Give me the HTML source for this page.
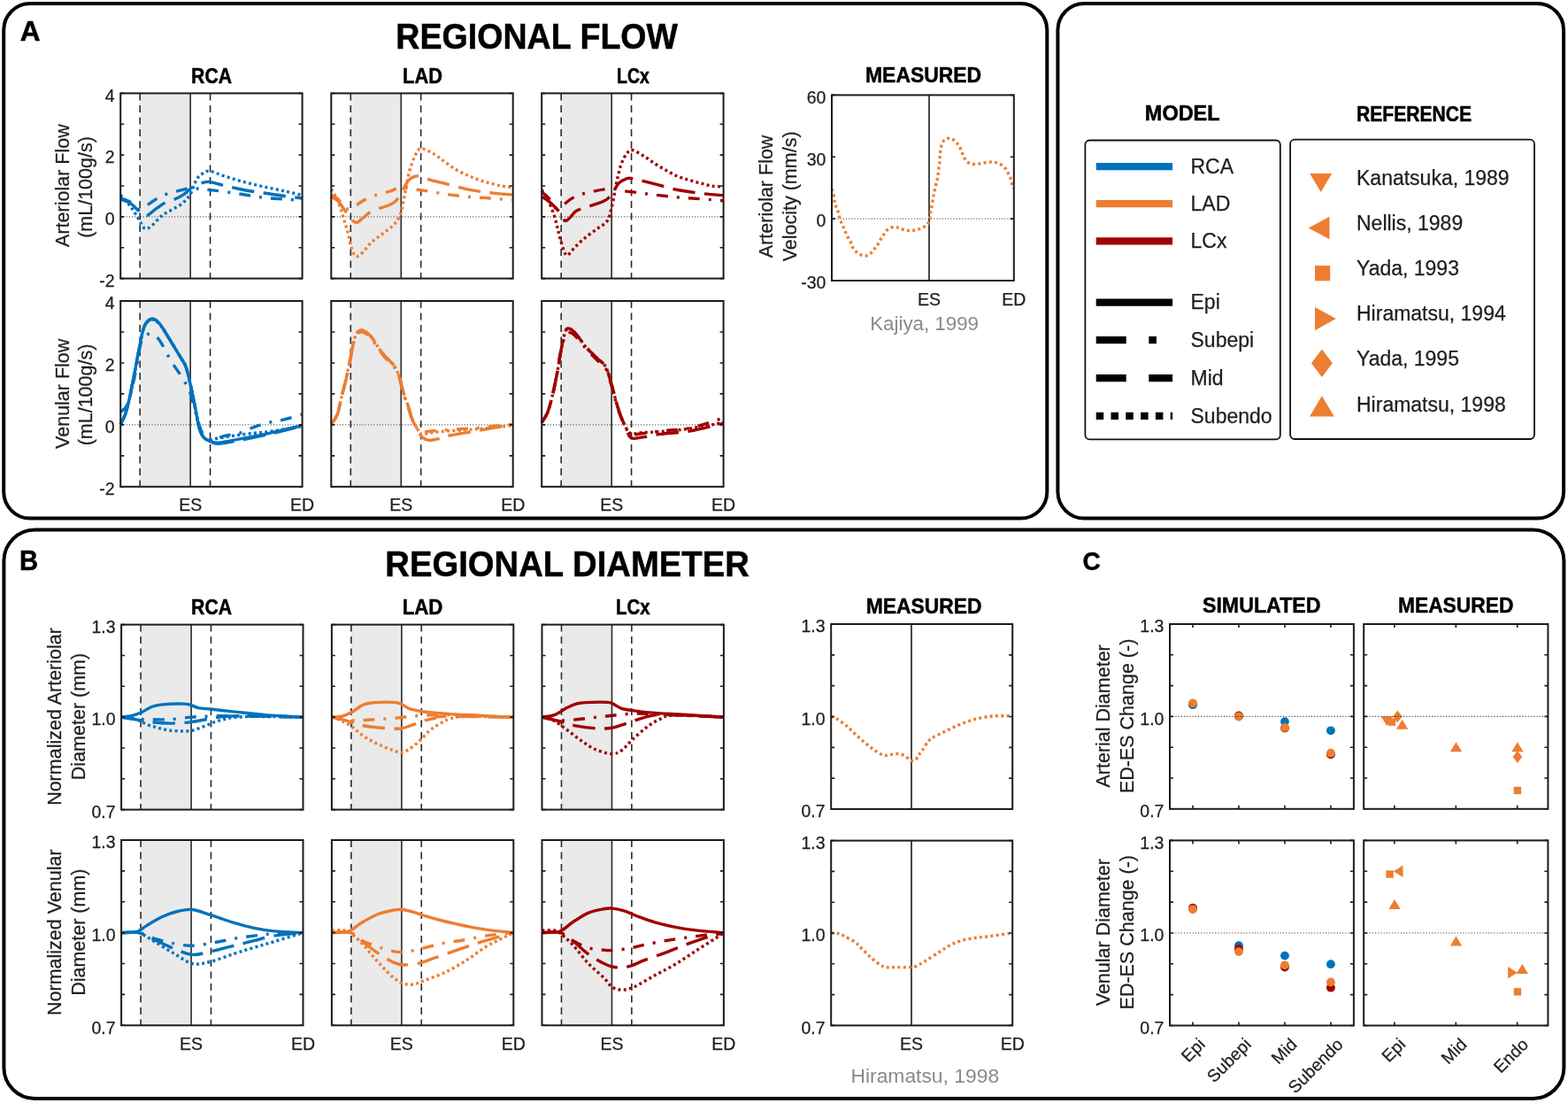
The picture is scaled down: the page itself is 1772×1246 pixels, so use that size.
<!DOCTYPE html>
<html><head><meta charset="utf-8"><title>Regional flow and diameter</title>
<style>html,body{margin:0;padding:0;background:#fff;}svg{display:block;}</style>
</head><body>
<svg width="1772" height="1246" viewBox="0 0 1772 1246">
<rect width="1772" height="1246" fill="#ffffff"/>
<rect x="4.2" y="4" width="1179.1" height="581.6" rx="30" ry="30" fill="none" stroke="#000" stroke-width="4"/>
<rect x="1195.4" y="4" width="571.7" height="581.6" rx="30" ry="30" fill="none" stroke="#000" stroke-width="4"/>
<rect x="4.4" y="598.6" width="1763" height="642.4" rx="35" ry="35" fill="none" stroke="#000" stroke-width="4"/>
<text x="22.81" y="45.5" font-family="'Liberation Sans', Arial, Helvetica, sans-serif" font-size="32" font-weight="bold" fill="#000" stroke="#000" stroke-width="0.5" textLength="22.85" lengthAdjust="spacingAndGlyphs">A</text>
<text x="21.9" y="644" font-family="'Liberation Sans', Arial, Helvetica, sans-serif" font-size="31.5" font-weight="bold" fill="#000" stroke="#000" stroke-width="0.5" textLength="21.07" lengthAdjust="spacingAndGlyphs">B</text>
<text x="1223.58" y="644.2" font-family="'Liberation Sans', Arial, Helvetica, sans-serif" font-size="29.5" font-weight="bold" fill="#000" stroke="#000" stroke-width="0.5" textLength="20.29" lengthAdjust="spacingAndGlyphs">C</text>
<text x="447.36" y="55.4" font-family="'Liberation Sans', Arial, Helvetica, sans-serif" font-size="41" font-weight="bold" fill="#000" stroke="#000" stroke-width="0.5" textLength="318.67" lengthAdjust="spacingAndGlyphs">REGIONAL FLOW</text>
<text x="435.31" y="650.8" font-family="'Liberation Sans', Arial, Helvetica, sans-serif" font-size="41.5" font-weight="bold" fill="#000" stroke="#000" stroke-width="0.5" textLength="411.55" lengthAdjust="spacingAndGlyphs">REGIONAL DIAMETER</text>
<text x="216.12" y="93.9" font-family="'Liberation Sans', Arial, Helvetica, sans-serif" font-size="24.5" font-weight="bold" fill="#000" stroke="#000" stroke-width="0.5" textLength="45.94" lengthAdjust="spacingAndGlyphs">RCA</text>
<text x="455.08" y="93.9" font-family="'Liberation Sans', Arial, Helvetica, sans-serif" font-size="24.5" font-weight="bold" fill="#000" stroke="#000" stroke-width="0.5" textLength="44.79" lengthAdjust="spacingAndGlyphs">LAD</text>
<text x="697.04" y="93.9" font-family="'Liberation Sans', Arial, Helvetica, sans-serif" font-size="24.5" font-weight="bold" fill="#000" stroke="#000" stroke-width="0.5" textLength="36.74" lengthAdjust="spacingAndGlyphs">LCx</text>
<text x="216.12" y="693.9" font-family="'Liberation Sans', Arial, Helvetica, sans-serif" font-size="24.5" font-weight="bold" fill="#000" stroke="#000" stroke-width="0.5" textLength="45.94" lengthAdjust="spacingAndGlyphs">RCA</text>
<text x="454.65" y="693.9" font-family="'Liberation Sans', Arial, Helvetica, sans-serif" font-size="24.5" font-weight="bold" fill="#000" stroke="#000" stroke-width="0.5" textLength="45.74" lengthAdjust="spacingAndGlyphs">LAD</text>
<text x="695.97" y="693.9" font-family="'Liberation Sans', Arial, Helvetica, sans-serif" font-size="24.5" font-weight="bold" fill="#000" stroke="#000" stroke-width="0.5" textLength="38.62" lengthAdjust="spacingAndGlyphs">LCx</text>
<rect x="158.18" y="105.4" width="57" height="209.2" fill="#EAEAEA"/>
<line x1="136.2" y1="244.87" x2="341.6" y2="244.87" stroke="#5a5a5a" stroke-width="1.1" stroke-dasharray="1.1 2.1"/>
<line x1="158.18" y1="105.4" x2="158.18" y2="314.6" stroke="#2a2a2a" stroke-width="1.6" stroke-dasharray="8 5.5"/>
<line x1="237.56" y1="105.4" x2="237.56" y2="314.6" stroke="#2a2a2a" stroke-width="1.6" stroke-dasharray="8 5.5"/>
<line x1="215.18" y1="105.4" x2="215.18" y2="314.6" stroke="#2a2a2a" stroke-width="1.6"/>
<path d="M136.2,224.99 C138.12,225.81 144.21,227.61 147.7,229.87 C151.19,232.14 154.24,236.27 157.15,238.59 C160.06,240.92 161.88,244.34 165.16,243.82 C168.45,243.3 173.38,237.89 176.87,235.45 C180.36,233.01 182.65,230.92 186.11,229.18 C189.57,227.43 193.95,226.62 197.61,224.99 C201.28,223.37 205.01,221.51 208.09,219.41 C211.17,217.32 212.64,214.59 216.1,212.44 C219.56,210.29 225.34,207.68 228.84,206.51 C232.33,205.35 233.18,205 237.05,205.47 C240.92,205.93 245.68,207.79 252.05,209.3 C258.41,210.81 267.52,213.08 275.26,214.53 C282.99,215.99 290.73,216.86 298.47,218.02 C306.2,219.18 314.49,220.52 321.68,221.51 C328.87,222.49 338.28,223.54 341.6,223.95" fill="none" stroke="#0072BD" stroke-width="3.4" stroke-dasharray="25.5 10.5"/>
<path d="M136.2,223.95 C138.12,224.7 144.28,226.45 147.7,228.48 C151.13,230.51 154.58,234.99 156.74,236.15 C158.9,237.31 158.25,236.73 160.64,235.45 C163.04,234.17 167.87,230.57 171.12,228.48 C174.37,226.39 176.73,224.64 180.16,222.9 C183.58,221.16 187.38,219.41 191.66,218.02 C195.94,216.62 201.93,215.46 205.83,214.53 C209.73,213.6 211.62,212.62 215.07,212.44 C218.53,212.27 222.91,213.14 226.58,213.49 C230.24,213.84 232.81,214.07 237.05,214.53 C241.3,215 245.68,215.4 252.05,216.28 C258.41,217.15 267.52,218.6 275.26,219.76 C282.99,220.92 290.73,222.38 298.47,223.25 C306.2,224.12 314.49,224.47 321.68,224.99 C328.87,225.52 338.28,226.15 341.6,226.39" fill="none" stroke="#0072BD" stroke-width="3.4" stroke-dasharray="12.8 10.1 3 10.1"/>
<path d="M136.2,220.46 C138.12,222.61 144.31,228.89 147.7,233.36 C151.09,237.84 153.9,243.18 156.53,247.31 C159.17,251.43 161.09,256.78 163.52,258.12 C165.95,259.45 167.93,257.71 171.12,255.33 C174.3,252.94 178.79,246.9 182.62,243.82 C186.45,240.74 190.25,239.17 194.12,236.85 C197.99,234.52 202.34,232.78 205.83,229.87 C209.32,226.97 212.37,223.89 215.07,219.41 C217.78,214.94 219.76,206.92 222.06,203.03 C224.35,199.13 226.34,197.68 228.84,196.05 C231.33,194.43 233.18,192.86 237.05,193.26 C240.92,193.67 245.68,196.46 252.05,198.49 C258.41,200.53 267.52,203.38 275.26,205.47 C282.99,207.56 290.73,209.3 298.47,211.05 C306.2,212.79 314.49,214.36 321.68,215.93 C328.87,217.5 338.28,219.7 341.6,220.46" fill="none" stroke="#0072BD" stroke-width="3.4" stroke-dasharray="3 3.3"/>
<path d="M136.2,314.6h4.0M341.6,314.6h-4.0" stroke="#1c1c1c" stroke-width="1.6"/>
<path d="M136.2,279.73h4.0M341.6,279.73h-4.0" stroke="#1c1c1c" stroke-width="1.6"/>
<path d="M136.2,244.87h4.0M341.6,244.87h-4.0" stroke="#1c1c1c" stroke-width="1.6"/>
<path d="M136.2,210h4.0M341.6,210h-4.0" stroke="#1c1c1c" stroke-width="1.6"/>
<path d="M136.2,175.13h4.0M341.6,175.13h-4.0" stroke="#1c1c1c" stroke-width="1.6"/>
<path d="M136.2,140.27h4.0M341.6,140.27h-4.0" stroke="#1c1c1c" stroke-width="1.6"/>
<path d="M136.2,105.4h4.0M341.6,105.4h-4.0" stroke="#1c1c1c" stroke-width="1.6"/>
<rect x="136.2" y="105.4" width="205.4" height="209.2" fill="none" stroke="#1c1c1c" stroke-width="2"/>
<text x="129.6" y="114.7" font-family="'Liberation Sans', Arial, Helvetica, sans-serif" font-size="19.5" font-weight="normal" fill="#1e1e1e" stroke="#1e1e1e" stroke-width="0.25" text-anchor="end">4</text>
<text x="129.6" y="184.43" font-family="'Liberation Sans', Arial, Helvetica, sans-serif" font-size="19.5" font-weight="normal" fill="#1e1e1e" stroke="#1e1e1e" stroke-width="0.25" text-anchor="end">2</text>
<text x="129.6" y="254.17" font-family="'Liberation Sans', Arial, Helvetica, sans-serif" font-size="19.5" font-weight="normal" fill="#1e1e1e" stroke="#1e1e1e" stroke-width="0.25" text-anchor="end">0</text>
<text x="129.6" y="323.9" font-family="'Liberation Sans', Arial, Helvetica, sans-serif" font-size="19.5" font-weight="normal" fill="#1e1e1e" stroke="#1e1e1e" stroke-width="0.25" text-anchor="end">-2</text>
<rect x="158.18" y="340" width="57" height="209.8" fill="#EAEAEA"/>
<line x1="136.2" y1="479.87" x2="341.6" y2="479.87" stroke="#5a5a5a" stroke-width="1.1" stroke-dasharray="1.1 2.1"/>
<line x1="158.18" y1="340" x2="158.18" y2="549.8" stroke="#2a2a2a" stroke-width="1.6" stroke-dasharray="8 5.5"/>
<line x1="237.56" y1="340" x2="237.56" y2="549.8" stroke="#2a2a2a" stroke-width="1.6" stroke-dasharray="8 5.5"/>
<line x1="215.18" y1="340" x2="215.18" y2="549.8" stroke="#2a2a2a" stroke-width="1.6"/>
<path d="M136.2,479.17 C137.06,477.42 139.66,473.51 141.33,468.68 C143.01,463.84 144.31,458.89 146.26,450.14 C148.22,441.4 151.09,426.13 153.04,416.23 C154.99,406.32 156.29,398.63 157.97,390.7 C159.65,382.78 160.85,373.74 163.11,368.67 C165.37,363.6 168.72,360.86 171.53,360.28 C174.34,359.7 176.87,361.8 179.95,365.18 C183.03,368.56 186.11,374.33 190.01,380.56 C193.92,386.8 200.01,396.94 203.37,402.59 C206.72,408.24 208.16,409.12 210.14,414.48 C212.13,419.84 213.6,427.42 215.28,434.76 C216.96,442.1 218.53,450.32 220.21,458.54 C221.89,466.75 223.67,478.12 225.34,484.06 C227.02,490.01 228.32,491.81 230.27,494.2 C232.22,496.59 234.24,497.41 237.05,498.4 C239.86,499.39 241.5,500.56 247.12,500.15 C252.73,499.74 261.22,497.76 270.74,495.95 C280.25,494.14 292.41,491.87 304.22,489.31 C316.03,486.74 335.37,482.02 341.6,480.57" fill="none" stroke="#0072BD" stroke-width="3.4"/>
<path d="M136.2,479.17 C137.06,477.42 139.66,473.51 141.33,468.68 C143.01,463.84 144.31,458.89 146.26,450.14 C148.22,441.4 151.09,426.13 153.04,416.23 C154.99,406.32 156.29,398.63 157.97,390.7 C159.65,382.78 160.85,373.74 163.11,368.67 C165.37,363.6 168.72,360.86 171.53,360.28 C174.34,359.7 176.87,361.8 179.95,365.18 C183.03,368.56 186.11,374.33 190.01,380.56 C193.92,386.8 200.01,396.94 203.37,402.59 C206.72,408.24 208.16,409.12 210.14,414.48 C212.13,419.84 213.6,427.42 215.28,434.76 C216.96,442.1 218.53,450.32 220.21,458.54 C221.89,466.75 223.67,478.12 225.34,484.06 C227.02,490.01 228.32,491.81 230.27,494.2 C232.22,496.59 234.24,497.23 237.05,498.4 C239.86,499.56 241.5,501.37 247.12,501.2 C252.73,501.02 261.22,499.16 270.74,497.35 C280.25,495.54 292.41,493.04 304.22,490.36 C316.03,487.68 335.37,482.78 341.6,481.27" fill="none" stroke="#0072BD" stroke-width="3.4" stroke-dasharray="25.5 10.5"/>
<path d="M136.2,465.53 C137.6,463.84 141.81,462.73 144.62,455.39 C147.43,448.05 150.51,433.07 153.04,421.47 C155.58,409.88 157.01,393.21 159.82,385.81 C162.63,378.41 166.53,377.36 169.89,377.06 C173.24,376.77 176.05,378.93 179.95,384.06 C183.85,389.19 188.82,400.49 193.3,407.84 C197.79,415.18 203.19,421.94 206.86,428.12 C210.52,434.29 212.78,438.14 215.28,444.9 C217.78,451.66 219.63,461.28 221.85,468.68 C224.08,476.08 226.1,484.59 228.63,489.31 C231.16,494.03 232.84,496.48 237.05,497 C241.26,497.52 248.28,493.74 253.89,492.45 C259.51,491.17 265.16,491 270.74,489.31 C276.32,487.62 281.79,484.3 287.37,482.31 C292.95,480.33 298.6,478.82 304.22,477.42 C309.83,476.02 314.83,475.5 321.06,473.92 C327.29,472.35 338.18,468.97 341.6,467.98" fill="none" stroke="#0072BD" stroke-width="3.4" stroke-dasharray="12.8 10.1 3 10.1"/>
<path d="M136.2,479.17 C137.06,477.42 139.66,473.51 141.33,468.68 C143.01,463.84 144.31,458.89 146.26,450.14 C148.22,441.4 151.09,426.13 153.04,416.23 C154.99,406.32 156.29,398.63 157.97,390.7 C159.65,382.78 160.85,373.63 163.11,368.67 C165.37,363.72 168.72,361.45 171.53,360.98 C174.34,360.51 176.87,362.61 179.95,365.88 C183.03,369.14 186.11,374.44 190.01,380.56 C193.92,386.68 200.01,396.94 203.37,402.59 C206.72,408.24 208.16,409.12 210.14,414.48 C212.13,419.84 213.6,427.42 215.28,434.76 C216.96,442.1 218.53,450.32 220.21,458.54 C221.89,466.75 223.67,478.12 225.34,484.06 C227.02,490.01 228.32,492.05 230.27,494.2 C232.22,496.36 234.52,496.83 237.05,497 C239.58,497.18 240.44,496.13 245.47,495.25 C250.51,494.38 260.26,492.75 267.25,491.76 C274.23,490.76 281.21,490.01 287.37,489.31 C293.54,488.61 295.18,488.84 304.22,487.56 C313.25,486.28 335.37,482.61 341.6,481.61" fill="none" stroke="#0072BD" stroke-width="3.4" stroke-dasharray="3 3.3"/>
<path d="M136.2,549.8h4.0M341.6,549.8h-4.0" stroke="#1c1c1c" stroke-width="1.6"/>
<path d="M136.2,514.83h4.0M341.6,514.83h-4.0" stroke="#1c1c1c" stroke-width="1.6"/>
<path d="M136.2,479.87h4.0M341.6,479.87h-4.0" stroke="#1c1c1c" stroke-width="1.6"/>
<path d="M136.2,444.9h4.0M341.6,444.9h-4.0" stroke="#1c1c1c" stroke-width="1.6"/>
<path d="M136.2,409.93h4.0M341.6,409.93h-4.0" stroke="#1c1c1c" stroke-width="1.6"/>
<path d="M136.2,374.97h4.0M341.6,374.97h-4.0" stroke="#1c1c1c" stroke-width="1.6"/>
<path d="M136.2,340h4.0M341.6,340h-4.0" stroke="#1c1c1c" stroke-width="1.6"/>
<rect x="136.2" y="340" width="205.4" height="209.8" fill="none" stroke="#1c1c1c" stroke-width="2"/>
<text x="129.6" y="349.3" font-family="'Liberation Sans', Arial, Helvetica, sans-serif" font-size="19.5" font-weight="normal" fill="#1e1e1e" stroke="#1e1e1e" stroke-width="0.25" text-anchor="end">4</text>
<text x="129.6" y="419.23" font-family="'Liberation Sans', Arial, Helvetica, sans-serif" font-size="19.5" font-weight="normal" fill="#1e1e1e" stroke="#1e1e1e" stroke-width="0.25" text-anchor="end">2</text>
<text x="129.6" y="489.17" font-family="'Liberation Sans', Arial, Helvetica, sans-serif" font-size="19.5" font-weight="normal" fill="#1e1e1e" stroke="#1e1e1e" stroke-width="0.25" text-anchor="end">0</text>
<text x="129.6" y="559.1" font-family="'Liberation Sans', Arial, Helvetica, sans-serif" font-size="19.5" font-weight="normal" fill="#1e1e1e" stroke="#1e1e1e" stroke-width="0.25" text-anchor="end">-2</text>
<text x="215.18" y="577.3" font-family="'Liberation Sans', Arial, Helvetica, sans-serif" font-size="19.5" font-weight="normal" fill="#1e1e1e" stroke="#1e1e1e" stroke-width="0.25" text-anchor="middle">ES</text>
<text x="341.6" y="577.3" font-family="'Liberation Sans', Arial, Helvetica, sans-serif" font-size="19.5" font-weight="normal" fill="#1e1e1e" stroke="#1e1e1e" stroke-width="0.25" text-anchor="middle">ED</text>
<rect x="396.28" y="105.4" width="57" height="209.2" fill="#EAEAEA"/>
<line x1="374.3" y1="244.87" x2="579.7" y2="244.87" stroke="#5a5a5a" stroke-width="1.1" stroke-dasharray="1.1 2.1"/>
<line x1="396.28" y1="105.4" x2="396.28" y2="314.6" stroke="#2a2a2a" stroke-width="1.6" stroke-dasharray="8 5.5"/>
<line x1="475.66" y1="105.4" x2="475.66" y2="314.6" stroke="#2a2a2a" stroke-width="1.6" stroke-dasharray="8 5.5"/>
<line x1="453.28" y1="105.4" x2="453.28" y2="314.6" stroke="#2a2a2a" stroke-width="1.6"/>
<path d="M374.3,222.2 C375.57,223.02 379.33,224.53 381.9,227.08 C384.47,229.64 387.34,234.35 389.71,237.54 C392.07,240.74 393.95,243.94 396.07,246.26 C398.19,248.59 400.08,251.49 402.44,251.49 C404.8,251.49 407.68,248.18 410.25,246.26 C412.81,244.34 414.87,241.79 417.84,239.99 C420.82,238.18 424.69,236.73 428.11,235.45 C431.54,234.17 435.2,233.71 438.38,232.31 C441.57,230.92 444.65,229.64 447.22,227.08 C449.78,224.53 451.43,220.81 453.79,216.97 C456.15,213.14 459.06,206.98 461.39,204.07 C463.72,201.17 465.63,200.35 467.76,199.54 C469.88,198.73 471.15,198.61 474.12,199.19 C477.1,199.77 480.94,201.69 485.63,203.03 C490.32,204.36 495.21,205.41 502.26,207.21 C509.32,209.01 519.38,212.09 527.94,213.84 C536.5,215.58 544.99,216.62 553.61,217.67 C562.24,218.72 575.35,219.7 579.7,220.11" fill="none" stroke="#ED7D31" stroke-width="3.4" stroke-dasharray="25.5 10.5"/>
<path d="M374.3,220.81 C375.57,221.45 379.33,222.32 381.9,224.64 C384.47,226.97 387.14,233.01 389.71,234.76 C392.27,236.5 394.33,236.15 397.3,235.1 C400.28,234.06 404.36,230.46 407.57,228.48 C410.79,226.5 412.98,224.82 416.61,223.25 C420.24,221.68 425.1,220.34 429.35,219.07 C433.59,217.79 438.25,216.8 442.08,215.58 C445.92,214.36 448.72,212.03 452.35,211.74 C455.98,211.45 459.78,213.31 463.85,213.84 C467.93,214.36 470.39,214.01 476.79,214.88 C483.2,215.75 493.74,217.85 502.26,219.07 C510.79,220.29 519.38,221.39 527.94,222.2 C536.5,223.02 544.99,223.31 553.61,223.95 C562.24,224.59 575.35,225.69 579.7,226.04" fill="none" stroke="#ED7D31" stroke-width="3.4" stroke-dasharray="12.8 10.1 3 10.1"/>
<path d="M374.3,213.84 C375.57,216.04 379.33,220.81 381.9,227.08 C384.47,233.36 387.75,245.27 389.71,251.49 C391.66,257.71 392.44,259.92 393.61,264.39 C394.77,268.87 395.42,274.27 396.69,278.34 C397.96,282.41 399.39,287.29 401.21,288.8 C403.02,290.31 404.6,289.79 407.57,287.4 C410.55,285.02 415,278.34 419.08,274.5 C423.15,270.67 427.74,267.82 432.02,264.39 C436.3,260.96 441.36,257.59 444.75,253.93 C448.14,250.27 450.23,248.18 452.35,242.43 C454.47,236.67 455.78,227.49 457.49,219.41 C459.2,211.34 460.7,201.17 462.62,193.96 C464.54,186.76 466.83,180.54 468.99,176.18 C471.15,171.82 472.14,168.28 475.56,167.81 C478.99,167.35 485.08,170.95 489.53,173.39 C493.98,175.83 497.99,179.43 502.26,182.46 C506.54,185.48 510.93,188.96 515.2,191.52 C519.48,194.08 523.69,195.88 527.94,197.8 C532.18,199.71 536.39,201.52 540.67,203.03 C544.95,204.54 549.34,205.7 553.61,206.86 C557.89,208.02 562,209.19 566.35,210 C570.7,210.81 577.47,211.45 579.7,211.74" fill="none" stroke="#ED7D31" stroke-width="3.4" stroke-dasharray="3 3.3"/>
<path d="M374.3,314.6h4.0M579.7,314.6h-4.0" stroke="#1c1c1c" stroke-width="1.6"/>
<path d="M374.3,279.73h4.0M579.7,279.73h-4.0" stroke="#1c1c1c" stroke-width="1.6"/>
<path d="M374.3,244.87h4.0M579.7,244.87h-4.0" stroke="#1c1c1c" stroke-width="1.6"/>
<path d="M374.3,210h4.0M579.7,210h-4.0" stroke="#1c1c1c" stroke-width="1.6"/>
<path d="M374.3,175.13h4.0M579.7,175.13h-4.0" stroke="#1c1c1c" stroke-width="1.6"/>
<path d="M374.3,140.27h4.0M579.7,140.27h-4.0" stroke="#1c1c1c" stroke-width="1.6"/>
<path d="M374.3,105.4h4.0M579.7,105.4h-4.0" stroke="#1c1c1c" stroke-width="1.6"/>
<rect x="374.3" y="105.4" width="205.4" height="209.2" fill="none" stroke="#1c1c1c" stroke-width="2"/>
<rect x="396.28" y="340" width="57" height="209.8" fill="#EAEAEA"/>
<line x1="374.3" y1="479.87" x2="579.7" y2="479.87" stroke="#5a5a5a" stroke-width="1.1" stroke-dasharray="1.1 2.1"/>
<line x1="396.28" y1="340" x2="396.28" y2="549.8" stroke="#2a2a2a" stroke-width="1.6" stroke-dasharray="8 5.5"/>
<line x1="475.66" y1="340" x2="475.66" y2="549.8" stroke="#2a2a2a" stroke-width="1.6" stroke-dasharray="8 5.5"/>
<line x1="453.28" y1="340" x2="453.28" y2="549.8" stroke="#2a2a2a" stroke-width="1.6"/>
<path d="M374.3,479.17 C375.43,477.42 379.13,473.81 381.08,468.68 C383.03,463.55 384.33,455.16 386.01,448.4 C387.69,441.64 389.47,435.46 391.14,428.12 C392.82,420.77 394.39,412.26 396.07,404.34 C397.75,396.41 399.19,385.81 401.21,380.56 C403.23,375.32 405.28,373.04 408.19,372.87 C411.1,372.69 415.14,375.78 418.67,379.51 C422.19,383.24 426.23,391.05 429.35,395.25 C432.46,399.44 434.72,401.77 437.36,404.69 C439.99,407.6 442.97,409.64 445.16,412.73 C447.35,415.82 449.17,419.9 450.5,423.22 C451.84,426.54 452.08,428.7 453.17,432.66 C454.27,436.62 455.78,442.8 457.08,447 C458.38,451.19 459.44,453.18 460.98,457.84 C462.52,462.5 464.54,470.54 466.32,474.97 C468.1,479.4 469.88,481.27 471.66,484.41 C473.44,487.56 474.74,491.7 477,493.85 C479.26,496.01 482.13,497.06 485.22,497.35 C488.3,497.64 491.55,496.53 495.49,495.6 C499.42,494.67 501.03,493.33 508.84,491.76 C516.64,490.18 530.51,488.26 542.32,486.16 C554.13,484.06 573.47,480.33 579.7,479.17" fill="none" stroke="#ED7D31" stroke-width="3.4" stroke-dasharray="25.5 10.5"/>
<path d="M374.3,479.17 C375.43,477.42 379.13,473.81 381.08,468.68 C383.03,463.55 384.33,455.16 386.01,448.4 C387.69,441.64 389.47,435.46 391.14,428.12 C392.82,420.77 394.39,412.03 396.07,404.34 C397.75,396.65 399.19,386.86 401.21,381.96 C403.23,377.06 405.28,375.08 408.19,374.97 C411.1,374.85 415.14,377.65 418.67,381.26 C422.19,384.87 426.23,392.45 429.35,396.65 C432.46,400.84 434.72,403.52 437.36,406.44 C439.99,409.35 442.97,411.1 445.16,414.13 C447.35,417.16 449.17,421.24 450.5,424.62 C451.84,428 452.08,430.45 453.17,434.41 C454.27,438.37 455.78,444.32 457.08,448.4 C458.38,452.48 459.44,454.34 460.98,458.89 C462.52,463.43 464.54,471.47 466.32,475.67 C468.1,479.87 469.88,482.08 471.66,484.06 C473.44,486.04 472.69,487.21 477,487.56 C481.31,487.91 487.27,486.86 497.54,486.16 C507.81,485.46 524.93,484.53 538.62,483.36 C552.31,482.2 572.85,479.87 579.7,479.17" fill="none" stroke="#ED7D31" stroke-width="3.4" stroke-dasharray="12.8 10.1 3 10.1"/>
<path d="M374.3,479.17 C375.43,477.42 379.13,473.81 381.08,468.68 C383.03,463.55 384.33,455.16 386.01,448.4 C387.69,441.64 389.47,435.46 391.14,428.12 C392.82,420.77 394.39,412.26 396.07,404.34 C397.75,396.41 399.19,385.81 401.21,380.56 C403.23,375.32 405.28,373.04 408.19,372.87 C411.1,372.69 415.14,375.78 418.67,379.51 C422.19,383.24 426.23,391.05 429.35,395.25 C432.46,399.44 434.72,401.77 437.36,404.69 C439.99,407.6 442.97,409.64 445.16,412.73 C447.35,415.82 449.17,419.9 450.5,423.22 C451.84,426.54 452.08,428.7 453.17,432.66 C454.27,436.62 455.78,442.8 457.08,447 C458.38,451.19 459.44,453.18 460.98,457.84 C462.52,462.5 464.54,470.54 466.32,474.97 C468.1,479.4 470.22,481.85 471.66,484.41 C473.1,486.98 473.71,489.37 474.95,490.36 C476.18,491.35 475.29,490.82 479.05,490.36 C482.82,489.89 487.61,488.49 497.54,487.56 C507.47,486.63 524.93,485.93 538.62,484.76 C552.31,483.6 572.85,481.27 579.7,480.57" fill="none" stroke="#ED7D31" stroke-width="3.4" stroke-dasharray="3 3.3"/>
<path d="M374.3,549.8h4.0M579.7,549.8h-4.0" stroke="#1c1c1c" stroke-width="1.6"/>
<path d="M374.3,514.83h4.0M579.7,514.83h-4.0" stroke="#1c1c1c" stroke-width="1.6"/>
<path d="M374.3,479.87h4.0M579.7,479.87h-4.0" stroke="#1c1c1c" stroke-width="1.6"/>
<path d="M374.3,444.9h4.0M579.7,444.9h-4.0" stroke="#1c1c1c" stroke-width="1.6"/>
<path d="M374.3,409.93h4.0M579.7,409.93h-4.0" stroke="#1c1c1c" stroke-width="1.6"/>
<path d="M374.3,374.97h4.0M579.7,374.97h-4.0" stroke="#1c1c1c" stroke-width="1.6"/>
<path d="M374.3,340h4.0M579.7,340h-4.0" stroke="#1c1c1c" stroke-width="1.6"/>
<rect x="374.3" y="340" width="205.4" height="209.8" fill="none" stroke="#1c1c1c" stroke-width="2"/>
<text x="453.28" y="577.3" font-family="'Liberation Sans', Arial, Helvetica, sans-serif" font-size="19.5" font-weight="normal" fill="#1e1e1e" stroke="#1e1e1e" stroke-width="0.25" text-anchor="middle">ES</text>
<text x="579.7" y="577.3" font-family="'Liberation Sans', Arial, Helvetica, sans-serif" font-size="19.5" font-weight="normal" fill="#1e1e1e" stroke="#1e1e1e" stroke-width="0.25" text-anchor="middle">ED</text>
<rect x="634.18" y="105.4" width="57" height="209.2" fill="#EAEAEA"/>
<line x1="612.2" y1="244.87" x2="817.6" y2="244.87" stroke="#5a5a5a" stroke-width="1.1" stroke-dasharray="1.1 2.1"/>
<line x1="634.18" y1="105.4" x2="634.18" y2="314.6" stroke="#2a2a2a" stroke-width="1.6" stroke-dasharray="8 5.5"/>
<line x1="713.56" y1="105.4" x2="713.56" y2="314.6" stroke="#2a2a2a" stroke-width="1.6" stroke-dasharray="8 5.5"/>
<line x1="691.18" y1="105.4" x2="691.18" y2="314.6" stroke="#2a2a2a" stroke-width="1.6"/>
<path d="M612.2,222.2 C613.47,223.02 616.58,224.35 619.8,227.08 C623.02,229.82 628.5,234.93 631.51,238.59 C634.52,242.25 635.96,247.66 637.88,249.05 C639.79,250.45 640.89,248.7 643.01,246.96 C645.13,245.22 648.08,240.51 650.61,238.59 C653.14,236.67 654.99,236.61 658.21,235.45 C661.43,234.29 665.84,233.01 669.92,231.62 C673.99,230.22 679.26,228.89 682.65,227.08 C686.04,225.28 687.48,224.18 690.25,220.81 C693.02,217.44 696.52,209.94 699.29,206.86 C702.06,203.78 704.32,203.2 706.89,202.33 C709.46,201.46 709.15,200.7 714.69,201.63 C720.24,202.56 731.64,205.76 740.16,207.91 C748.69,210.06 757.28,212.79 765.84,214.53 C774.4,216.28 782.89,217.32 791.51,218.37 C800.14,219.41 813.25,220.4 817.6,220.81" fill="none" stroke="#A00000" stroke-width="3.4" stroke-dasharray="25.5 10.5"/>
<path d="M612.2,216.97 C613.47,218.02 617.23,220.29 619.8,223.25 C622.37,226.21 625.04,233.24 627.61,234.76 C630.17,236.27 632.23,234 635.2,232.31 C638.18,230.63 641.85,226.79 645.47,224.64 C649.1,222.49 652.94,220.81 656.98,219.41 C661.02,218.02 665.43,217.21 669.71,216.28 C673.99,215.35 678.99,214.36 682.65,213.84 C686.32,213.31 688.06,212.85 691.69,213.14 C695.32,213.43 699.53,214.82 704.42,215.58 C709.32,216.33 715.11,216.92 721.06,217.67 C727.02,218.43 732.7,219.24 740.16,220.11 C747.63,220.98 757.28,222.15 765.84,222.9 C774.4,223.66 782.89,224 791.51,224.64 C800.14,225.28 813.25,226.39 817.6,226.74" fill="none" stroke="#A00000" stroke-width="3.4" stroke-dasharray="12.8 10.1 3 10.1"/>
<path d="M612.2,214.53 C613.47,216.62 617.44,222.2 619.8,227.08 C622.16,231.97 624.66,238.71 626.37,243.82 C628.08,248.93 628.91,253.29 630.07,257.77 C631.23,262.24 632.06,266.19 633.36,270.67 C634.66,275.14 636.51,281.71 637.88,284.61 C639.24,287.52 639.45,289.15 641.57,288.1 C643.69,287.06 646.98,281.88 650.61,278.34 C654.24,274.79 659.07,270.32 663.34,266.83 C667.62,263.35 672.42,260.38 676.28,257.42 C680.15,254.46 683.99,253.23 686.55,249.05 C689.12,244.87 690.01,239.35 691.69,232.31 C693.37,225.28 694.94,214.53 696.62,206.86 C698.3,199.19 699.8,191.87 701.75,186.29 C703.71,180.71 706.17,176.18 708.33,173.39 C710.48,170.6 711.51,169.09 714.69,169.55 C717.88,170.02 723.18,173.62 727.43,176.18 C731.67,178.74 735.89,182.16 740.16,184.9 C744.44,187.63 748.83,190.18 753.1,192.57 C757.38,194.95 761.59,197.39 765.84,199.19 C770.08,200.99 774.29,202.1 778.57,203.38 C782.85,204.65 787.24,205.76 791.51,206.86 C795.79,207.97 799.9,209.3 804.25,210 C808.6,210.7 815.37,210.87 817.6,211.05" fill="none" stroke="#A00000" stroke-width="3.4" stroke-dasharray="3 3.3"/>
<path d="M612.2,314.6h4.0M817.6,314.6h-4.0" stroke="#1c1c1c" stroke-width="1.6"/>
<path d="M612.2,279.73h4.0M817.6,279.73h-4.0" stroke="#1c1c1c" stroke-width="1.6"/>
<path d="M612.2,244.87h4.0M817.6,244.87h-4.0" stroke="#1c1c1c" stroke-width="1.6"/>
<path d="M612.2,210h4.0M817.6,210h-4.0" stroke="#1c1c1c" stroke-width="1.6"/>
<path d="M612.2,175.13h4.0M817.6,175.13h-4.0" stroke="#1c1c1c" stroke-width="1.6"/>
<path d="M612.2,140.27h4.0M817.6,140.27h-4.0" stroke="#1c1c1c" stroke-width="1.6"/>
<path d="M612.2,105.4h4.0M817.6,105.4h-4.0" stroke="#1c1c1c" stroke-width="1.6"/>
<rect x="612.2" y="105.4" width="205.4" height="209.2" fill="none" stroke="#1c1c1c" stroke-width="2"/>
<rect x="634.18" y="340" width="57" height="209.8" fill="#EAEAEA"/>
<line x1="612.2" y1="479.87" x2="817.6" y2="479.87" stroke="#5a5a5a" stroke-width="1.1" stroke-dasharray="1.1 2.1"/>
<line x1="634.18" y1="340" x2="634.18" y2="549.8" stroke="#2a2a2a" stroke-width="1.6" stroke-dasharray="8 5.5"/>
<line x1="713.56" y1="340" x2="713.56" y2="549.8" stroke="#2a2a2a" stroke-width="1.6" stroke-dasharray="8 5.5"/>
<line x1="691.18" y1="340" x2="691.18" y2="549.8" stroke="#2a2a2a" stroke-width="1.6"/>
<path d="M612.2,477.42 C613.33,475.44 617.03,470.37 618.98,465.53 C620.93,460.69 622.23,455.22 623.91,448.4 C625.59,441.58 627.37,433.36 629.04,424.62 C630.72,415.88 632.29,404.4 633.97,395.95 C635.65,387.5 637.43,378 639.11,373.92 C640.78,369.84 642.09,370.95 644.04,371.47 C645.99,371.99 647.73,373.57 650.82,377.06 C653.9,380.56 658.59,387.9 662.52,392.45 C666.46,397 670.77,400.67 674.44,404.34 C678.1,408.01 681.69,409.41 684.5,414.48 C687.31,419.55 689.33,428.23 691.28,434.76 C693.23,441.29 694.53,447.87 696.21,453.64 C697.89,459.41 699.67,464.83 701.34,469.38 C703.02,473.92 704.32,476.72 706.27,480.92 C708.22,485.11 709.7,492.4 713.05,494.55 C716.41,496.71 720.79,494.55 726.4,493.85 C732.02,493.15 737.77,491.52 746.74,490.36 C755.71,489.19 768.41,488.9 780.22,486.86 C792.03,484.82 811.37,479.58 817.6,478.12" fill="none" stroke="#A00000" stroke-width="3.4" stroke-dasharray="25.5 10.5"/>
<path d="M612.2,477.42 C613.33,475.44 617.03,470.37 618.98,465.53 C620.93,460.69 622.23,455.22 623.91,448.4 C625.59,441.58 627.37,433.36 629.04,424.62 C630.72,415.88 632.29,403.64 633.97,395.95 C635.65,388.25 637.43,381.84 639.11,378.46 C640.78,375.08 642.09,375.37 644.04,375.67 C645.99,375.96 647.73,377.12 650.82,380.21 C653.9,383.3 658.59,389.83 662.52,394.2 C666.46,398.57 670.77,402.77 674.44,406.44 C678.1,410.11 681.69,411.27 684.5,416.23 C687.31,421.18 689.33,429.75 691.28,436.16 C693.23,442.57 694.53,448.98 696.21,454.69 C697.89,460.4 699.67,465.94 701.34,470.43 C703.02,474.91 704.32,478.29 706.27,481.61 C708.22,484.94 709.7,489.02 713.05,490.36 C716.41,491.7 720.79,490.24 726.4,489.66 C732.02,489.07 737.77,487.91 746.74,486.86 C755.71,485.81 768.41,485.81 780.22,483.36 C792.03,480.92 811.37,474.04 817.6,472.17" fill="none" stroke="#A00000" stroke-width="3.4" stroke-dasharray="12.8 10.1 3 10.1"/>
<path d="M612.2,477.42 C613.33,475.44 617.03,470.37 618.98,465.53 C620.93,460.69 622.23,455.22 623.91,448.4 C625.59,441.58 627.37,433.36 629.04,424.62 C630.72,415.88 632.29,404.4 633.97,395.95 C635.65,387.5 637.43,378 639.11,373.92 C640.78,369.84 642.09,370.95 644.04,371.47 C645.99,371.99 647.73,373.57 650.82,377.06 C653.9,380.56 658.59,387.9 662.52,392.45 C666.46,397 670.77,400.67 674.44,404.34 C678.1,408.01 681.69,409.41 684.5,414.48 C687.31,419.55 689.33,428.23 691.28,434.76 C693.23,441.29 694.53,447.87 696.21,453.64 C697.89,459.41 699.67,464.83 701.34,469.38 C703.02,473.92 704.32,477.54 706.27,480.92 C708.22,484.3 709.7,488.38 713.05,489.66 C716.41,490.94 720.79,488.96 726.4,488.61 C732.02,488.26 737.77,488.32 746.74,487.56 C755.71,486.8 768.41,485.75 780.22,484.06 C792.03,482.37 811.37,478.53 817.6,477.42" fill="none" stroke="#A00000" stroke-width="3.4" stroke-dasharray="3 3.3"/>
<path d="M612.2,549.8h4.0M817.6,549.8h-4.0" stroke="#1c1c1c" stroke-width="1.6"/>
<path d="M612.2,514.83h4.0M817.6,514.83h-4.0" stroke="#1c1c1c" stroke-width="1.6"/>
<path d="M612.2,479.87h4.0M817.6,479.87h-4.0" stroke="#1c1c1c" stroke-width="1.6"/>
<path d="M612.2,444.9h4.0M817.6,444.9h-4.0" stroke="#1c1c1c" stroke-width="1.6"/>
<path d="M612.2,409.93h4.0M817.6,409.93h-4.0" stroke="#1c1c1c" stroke-width="1.6"/>
<path d="M612.2,374.97h4.0M817.6,374.97h-4.0" stroke="#1c1c1c" stroke-width="1.6"/>
<path d="M612.2,340h4.0M817.6,340h-4.0" stroke="#1c1c1c" stroke-width="1.6"/>
<rect x="612.2" y="340" width="205.4" height="209.8" fill="none" stroke="#1c1c1c" stroke-width="2"/>
<text x="691.18" y="577.3" font-family="'Liberation Sans', Arial, Helvetica, sans-serif" font-size="19.5" font-weight="normal" fill="#1e1e1e" stroke="#1e1e1e" stroke-width="0.25" text-anchor="middle">ES</text>
<text x="817.6" y="577.3" font-family="'Liberation Sans', Arial, Helvetica, sans-serif" font-size="19.5" font-weight="normal" fill="#1e1e1e" stroke="#1e1e1e" stroke-width="0.25" text-anchor="middle">ED</text>
<text transform="translate(77.5,209.6) rotate(-90)" font-family="'Liberation Sans', Arial, Helvetica, sans-serif" font-size="21.5" fill="#1e1e1e" stroke="#1e1e1e" stroke-width="0.25" text-anchor="middle">Arteriolar Flow</text>
<text transform="translate(104.2,211.5) rotate(-90)" font-family="'Liberation Sans', Arial, Helvetica, sans-serif" font-size="21.5" fill="#1e1e1e" stroke="#1e1e1e" stroke-width="0.25" text-anchor="middle">(mL/100g/s)</text>
<text transform="translate(77.8,444.8) rotate(-90)" font-family="'Liberation Sans', Arial, Helvetica, sans-serif" font-size="21.5" fill="#1e1e1e" stroke="#1e1e1e" stroke-width="0.25" text-anchor="middle">Venular Flow</text>
<text transform="translate(104.2,446) rotate(-90)" font-family="'Liberation Sans', Arial, Helvetica, sans-serif" font-size="21.5" fill="#1e1e1e" stroke="#1e1e1e" stroke-width="0.25" text-anchor="middle">(mL/100g/s)</text>
<line x1="940" y1="247.13" x2="1145.8" y2="247.13" stroke="#5a5a5a" stroke-width="1.1" stroke-dasharray="1.1 2.1"/>
<line x1="1050" y1="107.4" x2="1050" y2="317" stroke="#1a1a1a" stroke-width="1.6"/>
<path d="M940,213.36 C940.44,214.95 942.06,220.12 942.65,222.89 C943.24,225.66 942.95,227.76 943.54,229.97 C944.13,232.18 945.44,234.1 946.17,236.16 C946.91,238.23 947.35,240.29 947.94,242.36 C948.53,244.42 948.98,246.49 949.71,248.55 C950.45,250.62 951.48,252.69 952.37,254.75 C953.25,256.81 954.14,258.86 955.02,260.92 C955.9,262.98 956.63,265.11 957.66,267.12 C958.69,269.12 960.25,270.99 961.2,272.96 C962.14,274.94 962.29,277.08 963.32,278.97 C964.35,280.86 965.81,282.8 967.37,284.28 C968.93,285.75 970.77,287.05 972.68,287.82 C974.59,288.58 976.88,289.22 978.86,288.87 C980.83,288.51 982.89,287.05 984.51,285.7 C986.14,284.35 987.23,282.51 988.59,280.74 C989.94,278.97 991.38,277.06 992.64,275.08 C993.91,273.1 995.01,270.8 996.18,268.89 C997.36,266.97 998.47,265.2 999.7,263.58 C1000.94,261.95 1001.91,260.33 1003.59,259.15 C1005.27,257.97 1007.73,256.81 1009.79,256.52 C1011.85,256.23 1013.81,256.82 1015.96,257.4 C1018.11,257.99 1020.46,259.51 1022.67,260.04 C1024.88,260.56 1027.04,260.63 1029.21,260.57 C1031.39,260.51 1033.59,260.21 1035.74,259.69 C1037.89,259.16 1040.09,258.37 1042.1,257.4 C1044.1,256.43 1046.37,255.49 1047.76,253.86 C1049.14,252.24 1049.82,249.73 1050.41,247.67 C1051,245.6 1050.92,243.54 1051.3,241.47 C1051.68,239.41 1052.11,238.52 1052.7,235.28 C1053.28,232.04 1054.02,226.3 1054.82,222.03 C1055.61,217.75 1056.73,212.88 1057.47,209.64 C1058.21,206.39 1058.8,204.77 1059.24,202.56 C1059.68,200.35 1059.83,198.58 1060.13,196.36 C1060.42,194.15 1060.72,191.49 1061.01,189.28 C1061.31,187.08 1061.69,185.32 1061.9,183.11 C1062.1,180.9 1062.1,178.24 1062.25,176.03 C1062.39,173.82 1062.4,172.05 1062.78,169.84 C1063.16,167.63 1063.67,164.82 1064.55,162.76 C1065.43,160.69 1066.45,158.54 1068.07,157.45 C1069.69,156.36 1072.35,155.83 1074.26,156.21 C1076.18,156.6 1077.93,158.28 1079.55,159.75 C1081.17,161.23 1082.8,163.18 1083.98,165.06 C1085.15,166.95 1085.73,169.1 1086.61,171.07 C1087.49,173.05 1088.23,174.97 1089.27,176.92 C1090.3,178.86 1091.19,181.35 1092.81,182.74 C1094.43,184.13 1096.92,184.82 1098.98,185.23 C1101.04,185.65 1103.11,185.44 1105.18,185.23 C1107.24,185.03 1109.14,184.35 1111.35,184 C1113.56,183.64 1116.22,183.2 1118.43,183.11 C1120.64,183.02 1122.54,183.02 1124.6,183.46 C1126.66,183.9 1128.86,184.65 1130.78,185.77 C1132.69,186.88 1134.61,188.4 1136.09,190.17 C1137.56,191.93 1138.6,194.36 1139.63,196.36 C1140.65,198.37 1141.53,200.14 1142.26,202.21 C1142.99,204.27 1143.5,206.93 1144.03,208.75 C1144.56,210.58 1145.21,212.44 1145.45,213.18" fill="none" stroke="#ED7D31" stroke-width="3.4" stroke-dasharray="3 3.3"/>
<path d="M940,317h4.0M1145.8,317h-4.0" stroke="#1c1c1c" stroke-width="1.6"/>
<path d="M940,247.13h4.0M1145.8,247.13h-4.0" stroke="#1c1c1c" stroke-width="1.6"/>
<path d="M940,177.27h4.0M1145.8,177.27h-4.0" stroke="#1c1c1c" stroke-width="1.6"/>
<path d="M940,107.4h4.0M1145.8,107.4h-4.0" stroke="#1c1c1c" stroke-width="1.6"/>
<rect x="940" y="107.4" width="205.8" height="209.6" fill="none" stroke="#1c1c1c" stroke-width="2"/>
<text x="933.4" y="116.7" font-family="'Liberation Sans', Arial, Helvetica, sans-serif" font-size="19.5" font-weight="normal" fill="#1e1e1e" stroke="#1e1e1e" stroke-width="0.25" text-anchor="end">60</text>
<text x="933.4" y="186.57" font-family="'Liberation Sans', Arial, Helvetica, sans-serif" font-size="19.5" font-weight="normal" fill="#1e1e1e" stroke="#1e1e1e" stroke-width="0.25" text-anchor="end">30</text>
<text x="933.4" y="256.43" font-family="'Liberation Sans', Arial, Helvetica, sans-serif" font-size="19.5" font-weight="normal" fill="#1e1e1e" stroke="#1e1e1e" stroke-width="0.25" text-anchor="end">0</text>
<text x="933.4" y="326.3" font-family="'Liberation Sans', Arial, Helvetica, sans-serif" font-size="19.5" font-weight="normal" fill="#1e1e1e" stroke="#1e1e1e" stroke-width="0.25" text-anchor="end">-30</text>
<text x="1050" y="344.5" font-family="'Liberation Sans', Arial, Helvetica, sans-serif" font-size="19.5" font-weight="normal" fill="#1e1e1e" stroke="#1e1e1e" stroke-width="0.25" text-anchor="middle">ES</text>
<text x="1145.8" y="344.5" font-family="'Liberation Sans', Arial, Helvetica, sans-serif" font-size="19.5" font-weight="normal" fill="#1e1e1e" stroke="#1e1e1e" stroke-width="0.25" text-anchor="middle">ED</text>
<text x="978.01" y="93.4" font-family="'Liberation Sans', Arial, Helvetica, sans-serif" font-size="24" font-weight="bold" fill="#000" stroke="#000" stroke-width="0.5" textLength="131.17" lengthAdjust="spacingAndGlyphs">MEASURED</text>
<text transform="translate(872.75,221.9) rotate(-90)" font-family="'Liberation Sans', Arial, Helvetica, sans-serif" font-size="21.5" fill="#1e1e1e" stroke="#1e1e1e" stroke-width="0.25" text-anchor="middle">Arteriolar Flow</text>
<text transform="translate(900.3,221.9) rotate(-90)" font-family="'Liberation Sans', Arial, Helvetica, sans-serif" font-size="21.5" fill="#1e1e1e" stroke="#1e1e1e" stroke-width="0.25" text-anchor="middle">Velocity (mm/s)</text>
<text x="1044.6" y="373" font-family="'Liberation Sans', Arial, Helvetica, sans-serif" font-size="22" fill="#8a8a8a" text-anchor="middle" textLength="122.8" lengthAdjust="spacingAndGlyphs">Kajiya, 1999</text>
<rect x="159.08" y="705.6" width="57" height="209" fill="#EAEAEA"/>
<line x1="159.08" y1="705.6" x2="159.08" y2="914.6" stroke="#2a2a2a" stroke-width="1.6" stroke-dasharray="8 5.5"/>
<line x1="238.46" y1="705.6" x2="238.46" y2="914.6" stroke="#2a2a2a" stroke-width="1.6" stroke-dasharray="8 5.5"/>
<line x1="216.08" y1="705.6" x2="216.08" y2="914.6" stroke="#2a2a2a" stroke-width="1.6"/>
<path d="M137.1,810.1 C139.02,809.87 144.73,809.64 148.6,808.71 C152.47,807.78 156.44,806.27 160.31,804.53 C164.18,802.78 167.94,799.71 171.81,798.26 C175.68,796.81 177.7,796.34 183.52,795.82 C189.34,795.3 201.32,795.01 206.73,795.12 C212.14,795.24 213.1,795.76 215.97,796.52 C218.85,797.27 220.32,798.9 223.98,799.65 C227.65,800.4 233.12,800.52 237.95,801.04 C242.78,801.57 246.58,802.09 252.95,802.79 C259.31,803.48 268.42,804.41 276.16,805.22 C283.89,806.04 291.63,807.02 299.37,807.66 C307.1,808.3 315.39,808.65 322.58,809.06 C329.77,809.46 339.18,809.93 342.5,810.1" fill="none" stroke="#0072BD" stroke-width="3.4"/>
<path d="M137.1,810.1 C140.97,810.74 154.11,812.94 160.31,813.93 C166.51,814.92 169.45,815.5 174.28,816.02 C179.1,816.54 184.86,816.95 189.27,817.07 C193.69,817.18 196.32,816.95 200.77,816.72 C205.22,816.49 210.15,816.43 215.97,815.67 C221.79,814.92 229.53,813.24 235.69,812.19 C241.85,811.15 246.2,809.98 252.95,809.4 C259.69,808.82 261.23,808.59 276.16,808.71 C291.08,808.82 331.44,809.87 342.5,810.1" fill="none" stroke="#0072BD" stroke-width="3.4" stroke-dasharray="25.5 10.5"/>
<path d="M137.1,810.1 C140.01,810.45 149.73,811.78 154.56,812.19 C159.39,812.6 161.23,812.42 166.06,812.54 C170.89,812.65 178.28,812.94 183.52,812.89 C188.76,812.83 192.08,812.65 197.49,812.19 C202.9,811.73 210.6,810.56 215.97,810.1 C221.35,809.64 224.53,809.64 229.74,809.4 C234.94,809.17 241.41,808.82 247.19,808.71 C252.98,808.59 248.56,808.47 264.45,808.71 C280.33,808.94 329.49,809.87 342.5,810.1" fill="none" stroke="#0072BD" stroke-width="3.4" stroke-dasharray="12.8 10.1 3 10.1"/>
<path d="M137.1,810.1 C140.01,810.56 149.73,811.49 154.56,812.89 C159.39,814.28 162.19,816.95 166.06,818.46 C169.93,819.97 173.9,820.9 177.77,821.94 C181.64,822.99 185.23,824.09 189.27,824.73 C193.31,825.37 197.56,825.66 202.01,825.78 C206.46,825.89 211.35,826.24 215.97,825.43 C220.6,824.61 225.49,822.47 229.74,820.9 C233.98,819.33 237.57,817.42 241.44,816.02 C245.31,814.63 249.11,813.47 252.95,812.54 C256.78,811.61 258.63,810.97 264.45,810.45 C270.27,809.93 274.85,809.46 287.86,809.4 C300.87,809.35 333.39,809.98 342.5,810.1" fill="none" stroke="#0072BD" stroke-width="3.4" stroke-dasharray="3 3.3"/>
<path d="M137.1,914.6h4.0M342.5,914.6h-4.0" stroke="#1c1c1c" stroke-width="1.6"/>
<path d="M137.1,879.77h4.0M342.5,879.77h-4.0" stroke="#1c1c1c" stroke-width="1.6"/>
<path d="M137.1,844.93h4.0M342.5,844.93h-4.0" stroke="#1c1c1c" stroke-width="1.6"/>
<path d="M137.1,810.1h4.0M342.5,810.1h-4.0" stroke="#1c1c1c" stroke-width="1.6"/>
<path d="M137.1,775.27h4.0M342.5,775.27h-4.0" stroke="#1c1c1c" stroke-width="1.6"/>
<path d="M137.1,740.43h4.0M342.5,740.43h-4.0" stroke="#1c1c1c" stroke-width="1.6"/>
<path d="M137.1,705.6h4.0M342.5,705.6h-4.0" stroke="#1c1c1c" stroke-width="1.6"/>
<rect x="137.1" y="705.6" width="205.4" height="209" fill="none" stroke="#1c1c1c" stroke-width="2"/>
<text x="130.5" y="714.9" font-family="'Liberation Sans', Arial, Helvetica, sans-serif" font-size="19.5" font-weight="normal" fill="#1e1e1e" stroke="#1e1e1e" stroke-width="0.25" text-anchor="end">1.3</text>
<text x="130.5" y="819.4" font-family="'Liberation Sans', Arial, Helvetica, sans-serif" font-size="19.5" font-weight="normal" fill="#1e1e1e" stroke="#1e1e1e" stroke-width="0.25" text-anchor="end">1.0</text>
<text x="130.5" y="923.9" font-family="'Liberation Sans', Arial, Helvetica, sans-serif" font-size="19.5" font-weight="normal" fill="#1e1e1e" stroke="#1e1e1e" stroke-width="0.25" text-anchor="end">0.7</text>
<rect x="159.08" y="949" width="57" height="209.3" fill="#EAEAEA"/>
<line x1="159.08" y1="949" x2="159.08" y2="1158.3" stroke="#2a2a2a" stroke-width="1.6" stroke-dasharray="8 5.5"/>
<line x1="238.46" y1="949" x2="238.46" y2="1158.3" stroke="#2a2a2a" stroke-width="1.6" stroke-dasharray="8 5.5"/>
<line x1="216.08" y1="949" x2="216.08" y2="1158.3" stroke="#2a2a2a" stroke-width="1.6"/>
<path d="M137.1,1053.65 C139.98,1053.48 149.6,1053.94 154.35,1052.6 C159.11,1051.27 160.79,1048.48 165.65,1045.63 C170.51,1042.78 177.53,1038.24 183.52,1035.51 C189.51,1032.78 195.95,1030.57 201.6,1029.23 C207.24,1027.89 211.42,1026.79 217.41,1027.49 C223.4,1028.19 229.7,1030.92 237.54,1033.42 C245.38,1035.92 256.2,1039.99 264.45,1042.49 C272.7,1044.99 279.54,1046.85 287.04,1048.42 C294.54,1049.99 300.19,1051.03 309.43,1051.91 C318.67,1052.78 336.99,1053.36 342.5,1053.65" fill="none" stroke="#0072BD" stroke-width="3.4"/>
<path d="M137.1,1053.65 C140.35,1053.65 150.35,1052.31 156.61,1053.65 C162.88,1054.99 167.94,1058.65 174.69,1061.67 C181.43,1064.7 189.96,1069 197.08,1071.79 C204.2,1074.58 210.67,1077.89 217.41,1078.42 C224.16,1078.94 229.7,1076.61 237.54,1074.93 C245.38,1073.24 256.2,1070.34 264.45,1068.3 C272.7,1066.27 279.54,1064.58 287.04,1062.72 C294.54,1060.86 300.19,1058.65 309.43,1057.14 C318.67,1055.63 336.99,1054.23 342.5,1053.65" fill="none" stroke="#0072BD" stroke-width="3.4" stroke-dasharray="25.5 10.5"/>
<path d="M137.1,1053.65 C140.35,1053.65 150.35,1052.55 156.61,1053.65 C162.88,1054.75 167.94,1058.24 174.69,1060.28 C181.43,1062.31 189.96,1064.52 197.08,1065.86 C204.2,1067.2 209.91,1068.48 217.41,1068.3 C224.91,1068.13 234.22,1066.15 242.06,1064.81 C249.9,1063.48 256.95,1061.56 264.45,1060.28 C271.95,1059 279.54,1058.07 287.04,1057.14 C294.54,1056.21 300.19,1055.28 309.43,1054.7 C318.67,1054.12 336.99,1053.82 342.5,1053.65" fill="none" stroke="#0072BD" stroke-width="3.4" stroke-dasharray="12.8 10.1 3 10.1"/>
<path d="M137.1,1053.65 C140.35,1053.65 150.35,1051.96 156.61,1053.65 C162.88,1055.34 167.94,1059.81 174.69,1063.77 C181.43,1067.72 189.96,1073.24 197.08,1077.37 C204.2,1081.5 210.67,1087.02 217.41,1088.53 C224.16,1090.04 229.7,1088.3 237.54,1086.44 C245.38,1084.58 256.2,1080.05 264.45,1077.37 C272.7,1074.7 279.54,1072.66 287.04,1070.39 C294.54,1068.13 300.19,1066.56 309.43,1063.77 C318.67,1060.98 336.99,1055.34 342.5,1053.65" fill="none" stroke="#0072BD" stroke-width="3.4" stroke-dasharray="3 3.3"/>
<path d="M137.1,1158.3h4.0M342.5,1158.3h-4.0" stroke="#1c1c1c" stroke-width="1.6"/>
<path d="M137.1,1123.42h4.0M342.5,1123.42h-4.0" stroke="#1c1c1c" stroke-width="1.6"/>
<path d="M137.1,1088.53h4.0M342.5,1088.53h-4.0" stroke="#1c1c1c" stroke-width="1.6"/>
<path d="M137.1,1053.65h4.0M342.5,1053.65h-4.0" stroke="#1c1c1c" stroke-width="1.6"/>
<path d="M137.1,1018.77h4.0M342.5,1018.77h-4.0" stroke="#1c1c1c" stroke-width="1.6"/>
<path d="M137.1,983.88h4.0M342.5,983.88h-4.0" stroke="#1c1c1c" stroke-width="1.6"/>
<path d="M137.1,949h4.0M342.5,949h-4.0" stroke="#1c1c1c" stroke-width="1.6"/>
<rect x="137.1" y="949" width="205.4" height="209.3" fill="none" stroke="#1c1c1c" stroke-width="2"/>
<text x="130.5" y="958.3" font-family="'Liberation Sans', Arial, Helvetica, sans-serif" font-size="19.5" font-weight="normal" fill="#1e1e1e" stroke="#1e1e1e" stroke-width="0.25" text-anchor="end">1.3</text>
<text x="130.5" y="1062.95" font-family="'Liberation Sans', Arial, Helvetica, sans-serif" font-size="19.5" font-weight="normal" fill="#1e1e1e" stroke="#1e1e1e" stroke-width="0.25" text-anchor="end">1.0</text>
<text x="130.5" y="1167.6" font-family="'Liberation Sans', Arial, Helvetica, sans-serif" font-size="19.5" font-weight="normal" fill="#1e1e1e" stroke="#1e1e1e" stroke-width="0.25" text-anchor="end">0.7</text>
<text x="216.08" y="1185.8" font-family="'Liberation Sans', Arial, Helvetica, sans-serif" font-size="19.5" font-weight="normal" fill="#1e1e1e" stroke="#1e1e1e" stroke-width="0.25" text-anchor="middle">ES</text>
<text x="342.5" y="1185.8" font-family="'Liberation Sans', Arial, Helvetica, sans-serif" font-size="19.5" font-weight="normal" fill="#1e1e1e" stroke="#1e1e1e" stroke-width="0.25" text-anchor="middle">ED</text>
<rect x="396.88" y="705.6" width="57" height="209" fill="#EAEAEA"/>
<line x1="396.88" y1="705.6" x2="396.88" y2="914.6" stroke="#2a2a2a" stroke-width="1.6" stroke-dasharray="8 5.5"/>
<line x1="476.26" y1="705.6" x2="476.26" y2="914.6" stroke="#2a2a2a" stroke-width="1.6" stroke-dasharray="8 5.5"/>
<line x1="453.88" y1="705.6" x2="453.88" y2="914.6" stroke="#2a2a2a" stroke-width="1.6"/>
<path d="M374.9,810.1 C376.82,809.93 382.53,810.04 386.4,809.06 C390.27,808.07 394.24,806.27 398.11,804.18 C401.98,802.09 405.74,798.26 409.61,796.52 C413.48,794.77 415.5,794.25 421.32,793.73 C427.14,793.21 439.12,793.09 444.53,793.38 C449.94,793.67 450.69,794.25 453.77,795.47 C456.85,796.69 459.35,799.36 463.02,800.7 C466.68,802.03 471.13,802.73 475.75,803.48 C480.37,804.24 484.38,804.64 490.75,805.22 C497.11,805.8 506.22,806.5 513.96,806.97 C521.69,807.43 529.43,807.6 537.17,808.01 C544.9,808.42 553.19,809.06 560.38,809.4 C567.57,809.75 576.98,809.98 580.3,810.1" fill="none" stroke="#ED7D31" stroke-width="3.4"/>
<path d="M374.9,810.1 C377.81,810.8 386.57,812.71 392.36,814.28 C398.14,815.85 403.83,818.23 409.61,819.5 C415.4,820.78 421.25,821.36 427.07,821.94 C432.89,822.52 440.08,822.81 444.53,822.99 C448.98,823.16 449.94,823.74 453.77,822.99 C457.61,822.23 463.29,819.97 467.54,818.46 C471.78,816.95 475.37,815.09 479.24,813.93 C483.11,812.77 486.91,812.25 490.75,811.49 C494.58,810.74 487.32,809.64 502.25,809.4 C517.17,809.17 567.29,809.98 580.3,810.1" fill="none" stroke="#ED7D31" stroke-width="3.4" stroke-dasharray="25.5 10.5"/>
<path d="M374.9,810.1 C378.77,810.74 391.33,813.41 398.11,813.93 C404.89,814.45 409.78,813.53 415.57,813.24 C421.35,812.94 426.46,812.65 432.82,812.19 C439.19,811.73 447.41,811.03 453.77,810.45 C460.14,809.87 464.87,809.17 471.03,808.71 C477.19,808.24 483.59,807.84 490.75,807.66 C497.9,807.49 499.03,807.26 513.96,807.66 C528.88,808.07 569.24,809.69 580.3,810.1" fill="none" stroke="#ED7D31" stroke-width="3.4" stroke-dasharray="12.8 10.1 3 10.1"/>
<path d="M374.9,810.1 C376.82,810.8 382.53,812.42 386.4,814.28 C390.27,816.14 394.24,818.52 398.11,821.25 C401.98,823.98 405.74,827.92 409.61,830.65 C413.48,833.38 417.45,835.53 421.32,837.62 C425.19,839.71 428.95,841.51 432.82,843.19 C436.69,844.88 441.04,846.56 444.53,847.72 C448.02,848.88 450.9,850.33 453.77,850.16 C456.65,849.98 458.5,848.76 461.78,846.67 C465.07,844.58 469.62,841.1 473.49,837.62 C477.36,834.13 481.13,829.08 484.99,825.78 C488.86,822.47 492.83,820.03 496.7,817.76 C500.57,815.5 503.38,813.58 508.2,812.19 C513.03,810.8 513.65,809.75 525.66,809.4 C537.68,809.06 571.19,809.98 580.3,810.1" fill="none" stroke="#ED7D31" stroke-width="3.4" stroke-dasharray="3 3.3"/>
<path d="M374.9,914.6h4.0M580.3,914.6h-4.0" stroke="#1c1c1c" stroke-width="1.6"/>
<path d="M374.9,879.77h4.0M580.3,879.77h-4.0" stroke="#1c1c1c" stroke-width="1.6"/>
<path d="M374.9,844.93h4.0M580.3,844.93h-4.0" stroke="#1c1c1c" stroke-width="1.6"/>
<path d="M374.9,810.1h4.0M580.3,810.1h-4.0" stroke="#1c1c1c" stroke-width="1.6"/>
<path d="M374.9,775.27h4.0M580.3,775.27h-4.0" stroke="#1c1c1c" stroke-width="1.6"/>
<path d="M374.9,740.43h4.0M580.3,740.43h-4.0" stroke="#1c1c1c" stroke-width="1.6"/>
<path d="M374.9,705.6h4.0M580.3,705.6h-4.0" stroke="#1c1c1c" stroke-width="1.6"/>
<rect x="374.9" y="705.6" width="205.4" height="209" fill="none" stroke="#1c1c1c" stroke-width="2"/>
<rect x="396.88" y="949" width="57" height="209.3" fill="#EAEAEA"/>
<line x1="396.88" y1="949" x2="396.88" y2="1158.3" stroke="#2a2a2a" stroke-width="1.6" stroke-dasharray="8 5.5"/>
<line x1="476.26" y1="949" x2="476.26" y2="1158.3" stroke="#2a2a2a" stroke-width="1.6" stroke-dasharray="8 5.5"/>
<line x1="453.88" y1="949" x2="453.88" y2="1158.3" stroke="#2a2a2a" stroke-width="1.6"/>
<path d="M374.9,1053.65 C376.82,1053.53 382.91,1053.36 386.4,1052.95 C389.89,1052.55 391.98,1053.07 395.85,1051.21 C399.72,1049.35 404.41,1044.87 409.61,1041.79 C414.82,1038.71 421.25,1034.99 427.07,1032.72 C432.89,1030.45 440.08,1029.06 444.53,1028.19 C448.98,1027.31 449.94,1027.14 453.77,1027.49 C457.61,1027.84 463.29,1029.12 467.54,1030.28 C471.78,1031.44 473.42,1032.72 479.24,1034.46 C485.06,1036.21 494.72,1038.82 502.45,1040.74 C510.19,1042.66 517.96,1044.41 525.66,1045.98 C533.37,1047.55 539.56,1048.88 548.67,1050.16 C557.77,1051.44 575.03,1053.07 580.3,1053.65" fill="none" stroke="#ED7D31" stroke-width="3.4"/>
<path d="M374.9,1053.65 C378.39,1053.65 390.07,1051.96 395.85,1053.65 C401.64,1055.34 404.41,1059.93 409.61,1063.77 C414.82,1067.6 421.25,1072.78 427.07,1076.67 C432.89,1080.57 439.7,1084.93 444.53,1087.14 C449.36,1089.35 451.21,1089.75 456.03,1089.93 C460.86,1090.1 467.71,1089.46 473.49,1088.18 C479.28,1086.91 484,1084.58 490.75,1082.25 C497.49,1079.93 506.22,1076.91 513.96,1074.23 C521.69,1071.56 529.43,1068.71 537.17,1066.21 C544.9,1063.71 553.19,1061.32 560.38,1059.23 C567.57,1057.14 576.98,1054.58 580.3,1053.65" fill="none" stroke="#ED7D31" stroke-width="3.4" stroke-dasharray="25.5 10.5"/>
<path d="M374.9,1053.65 C378.39,1053.65 390.07,1052.14 395.85,1053.65 C401.64,1055.16 403.83,1059.87 409.61,1062.72 C415.4,1065.57 423.2,1068.59 430.56,1070.74 C437.92,1072.89 445.66,1075.63 453.77,1075.63 C461.89,1075.63 471.13,1072.49 479.24,1070.74 C487.36,1069 494.72,1066.67 502.45,1065.16 C510.19,1063.65 517.96,1063.01 525.66,1061.67 C533.37,1060.34 539.56,1058.48 548.67,1057.14 C557.77,1055.8 575.03,1054.23 580.3,1053.65" fill="none" stroke="#ED7D31" stroke-width="3.4" stroke-dasharray="12.8 10.1 3 10.1"/>
<path d="M374.9,1051.21 C376.95,1051.15 383.73,1050.45 387.22,1050.86 C390.72,1051.27 392.12,1051.09 395.85,1053.65 C399.58,1056.21 405.37,1061.79 409.61,1066.21 C413.86,1070.63 417.45,1075.74 421.32,1080.16 C425.19,1084.58 428.95,1088.71 432.82,1092.72 C436.69,1096.73 440.66,1101.15 444.53,1104.23 C448.4,1107.31 452.2,1109.93 456.03,1111.21 C459.87,1112.49 463.67,1112.49 467.54,1111.91 C471.4,1111.32 473.42,1109.93 479.24,1107.72 C485.06,1105.51 494.72,1102.31 502.45,1098.65 C510.19,1094.99 517.96,1090.57 525.66,1085.74 C533.37,1080.92 541.92,1073.88 548.67,1069.7 C555.41,1065.51 560.86,1063.3 566.13,1060.63 C571.4,1057.95 577.94,1054.81 580.3,1053.65" fill="none" stroke="#ED7D31" stroke-width="3.4" stroke-dasharray="3 3.3"/>
<path d="M374.9,1158.3h4.0M580.3,1158.3h-4.0" stroke="#1c1c1c" stroke-width="1.6"/>
<path d="M374.9,1123.42h4.0M580.3,1123.42h-4.0" stroke="#1c1c1c" stroke-width="1.6"/>
<path d="M374.9,1088.53h4.0M580.3,1088.53h-4.0" stroke="#1c1c1c" stroke-width="1.6"/>
<path d="M374.9,1053.65h4.0M580.3,1053.65h-4.0" stroke="#1c1c1c" stroke-width="1.6"/>
<path d="M374.9,1018.77h4.0M580.3,1018.77h-4.0" stroke="#1c1c1c" stroke-width="1.6"/>
<path d="M374.9,983.88h4.0M580.3,983.88h-4.0" stroke="#1c1c1c" stroke-width="1.6"/>
<path d="M374.9,949h4.0M580.3,949h-4.0" stroke="#1c1c1c" stroke-width="1.6"/>
<rect x="374.9" y="949" width="205.4" height="209.3" fill="none" stroke="#1c1c1c" stroke-width="2"/>
<text x="453.88" y="1185.8" font-family="'Liberation Sans', Arial, Helvetica, sans-serif" font-size="19.5" font-weight="normal" fill="#1e1e1e" stroke="#1e1e1e" stroke-width="0.25" text-anchor="middle">ES</text>
<text x="580.3" y="1185.8" font-family="'Liberation Sans', Arial, Helvetica, sans-serif" font-size="19.5" font-weight="normal" fill="#1e1e1e" stroke="#1e1e1e" stroke-width="0.25" text-anchor="middle">ED</text>
<rect x="634.48" y="705.6" width="57" height="209" fill="#EAEAEA"/>
<line x1="634.48" y1="705.6" x2="634.48" y2="914.6" stroke="#2a2a2a" stroke-width="1.6" stroke-dasharray="8 5.5"/>
<line x1="713.86" y1="705.6" x2="713.86" y2="914.6" stroke="#2a2a2a" stroke-width="1.6" stroke-dasharray="8 5.5"/>
<line x1="691.48" y1="705.6" x2="691.48" y2="914.6" stroke="#2a2a2a" stroke-width="1.6"/>
<path d="M612.5,810.1 C615,809.64 622.74,809.11 627.49,807.31 C632.25,805.51 636.87,801.39 641.05,799.3 C645.23,797.21 648.07,795.76 652.55,794.77 C657.04,793.79 662.21,793.61 667.96,793.38 C673.71,793.15 682.92,793.09 687.06,793.38 C691.2,793.67 690.24,793.96 692.81,795.12 C695.38,796.28 698.94,799.13 702.47,800.35 C705.99,801.57 708.83,801.68 713.97,802.44 C719.1,803.19 723.66,804.06 733.28,804.88 C742.89,805.69 757.58,806.44 771.68,807.31 C785.79,808.18 810.2,809.64 817.9,810.1" fill="none" stroke="#A00000" stroke-width="3.4"/>
<path d="M612.5,810.1 C615.92,810.91 626.71,813.35 633.04,814.98 C639.37,816.6 644.06,818.58 650.5,819.85 C656.93,821.13 664.91,822.23 671.66,822.64 C678.4,823.05 684.66,823.28 690.96,822.29 C697.26,821.3 703.05,818.75 709.45,816.72 C715.85,814.69 722.25,811.67 729.37,810.1 C736.49,808.53 737.42,807.31 752.17,807.31 C766.93,807.31 806.95,809.64 817.9,810.1" fill="none" stroke="#A00000" stroke-width="3.4" stroke-dasharray="25.5 10.5"/>
<path d="M612.5,810.1 C616.27,810.74 627.8,813.58 635.09,813.93 C642.39,814.28 649.51,812.83 656.25,812.19 C662.99,811.55 669.16,810.8 675.56,810.1 C681.96,809.4 688.26,808.65 694.66,808.01 C701.06,807.37 707.53,806.56 713.97,806.27 C720.4,805.98 726.91,806.09 733.28,806.27 C739.64,806.44 738.07,806.67 752.17,807.31 C766.28,807.95 806.95,809.64 817.9,810.1" fill="none" stroke="#A00000" stroke-width="3.4" stroke-dasharray="12.8 10.1 3 10.1"/>
<path d="M612.5,810.1 C614.69,810.74 620.89,811.49 625.65,813.93 C630.4,816.37 635.95,821.01 641.05,824.73 C646.15,828.45 651.15,832.68 656.25,836.23 C661.35,839.77 665.87,843.42 671.66,845.98 C677.44,848.53 685.83,851.26 690.96,851.55 C696.1,851.84 698.63,850.27 702.47,847.72 C706.3,845.17 709.48,840.4 713.97,836.23 C718.45,832.05 724.24,826.53 729.37,822.64 C734.51,818.75 739.33,815.33 744.78,812.89 C750.22,810.45 749.84,808.47 762.03,808.01 C774.22,807.55 808.59,809.75 817.9,810.1" fill="none" stroke="#A00000" stroke-width="3.4" stroke-dasharray="3 3.3"/>
<path d="M612.5,914.6h4.0M817.9,914.6h-4.0" stroke="#1c1c1c" stroke-width="1.6"/>
<path d="M612.5,879.77h4.0M817.9,879.77h-4.0" stroke="#1c1c1c" stroke-width="1.6"/>
<path d="M612.5,844.93h4.0M817.9,844.93h-4.0" stroke="#1c1c1c" stroke-width="1.6"/>
<path d="M612.5,810.1h4.0M817.9,810.1h-4.0" stroke="#1c1c1c" stroke-width="1.6"/>
<path d="M612.5,775.27h4.0M817.9,775.27h-4.0" stroke="#1c1c1c" stroke-width="1.6"/>
<path d="M612.5,740.43h4.0M817.9,740.43h-4.0" stroke="#1c1c1c" stroke-width="1.6"/>
<path d="M612.5,705.6h4.0M817.9,705.6h-4.0" stroke="#1c1c1c" stroke-width="1.6"/>
<rect x="612.5" y="705.6" width="205.4" height="209" fill="none" stroke="#1c1c1c" stroke-width="2"/>
<rect x="634.48" y="949" width="57" height="209.3" fill="#EAEAEA"/>
<line x1="634.48" y1="949" x2="634.48" y2="1158.3" stroke="#2a2a2a" stroke-width="1.6" stroke-dasharray="8 5.5"/>
<line x1="713.86" y1="949" x2="713.86" y2="1158.3" stroke="#2a2a2a" stroke-width="1.6" stroke-dasharray="8 5.5"/>
<line x1="691.48" y1="949" x2="691.48" y2="1158.3" stroke="#2a2a2a" stroke-width="1.6"/>
<path d="M612.5,1053.65 C615.79,1053.42 626.43,1054.23 632.22,1052.25 C638,1050.28 641.8,1045.28 647.21,1041.79 C652.62,1038.3 658.85,1033.82 664.67,1031.32 C670.49,1028.82 677.68,1027.66 682.13,1026.79 C686.58,1025.92 687.54,1025.74 691.37,1026.09 C695.21,1026.44 699.93,1027.25 705.14,1028.88 C710.34,1030.51 716.77,1033.71 722.59,1035.86 C728.41,1038.01 733.28,1039.87 740.05,1041.79 C746.83,1043.71 755.56,1045.86 763.26,1047.37 C770.97,1048.88 777.16,1049.81 786.27,1050.86 C795.37,1051.91 812.63,1053.18 817.9,1053.65" fill="none" stroke="#A00000" stroke-width="3.4"/>
<path d="M612.5,1053.65 C615.79,1053.59 626.43,1051.79 632.22,1053.3 C638,1054.81 641.8,1058.65 647.21,1062.72 C652.62,1066.79 658.85,1073.48 664.67,1077.72 C670.49,1081.96 676.93,1085.68 682.13,1088.18 C687.33,1090.68 691.07,1092.14 695.89,1092.72 C700.72,1093.3 705.68,1093.01 711.09,1091.67 C716.5,1090.34 721.6,1087.25 728.35,1084.7 C735.09,1082.14 743.82,1079.23 751.56,1076.32 C759.29,1073.42 767.03,1070.1 774.77,1067.25 C782.5,1064.41 790.79,1061.5 797.98,1059.23 C805.17,1056.96 814.58,1054.58 817.9,1053.65" fill="none" stroke="#A00000" stroke-width="3.4" stroke-dasharray="25.5 10.5"/>
<path d="M612.5,1053.65 C615.79,1053.59 626.43,1051.79 632.22,1053.3 C638,1054.81 641.8,1059.81 647.21,1062.72 C652.62,1065.63 658.85,1069 664.67,1070.74 C670.49,1072.49 677.68,1072.72 682.13,1073.18 C686.58,1073.65 686.55,1073.82 691.37,1073.53 C696.2,1073.24 704.93,1072.49 711.09,1071.44 C717.25,1070.39 721.6,1068.71 728.35,1067.25 C735.09,1065.8 743.82,1064.06 751.56,1062.72 C759.29,1061.38 767.03,1060.34 774.77,1059.23 C782.5,1058.13 790.79,1057.02 797.98,1056.09 C805.17,1055.16 814.58,1054.06 817.9,1053.65" fill="none" stroke="#A00000" stroke-width="3.4" stroke-dasharray="12.8 10.1 3 10.1"/>
<path d="M612.5,1051.21 C614.55,1051.15 621.54,1050.45 624.82,1050.86 C628.11,1051.27 628.49,1050.92 632.22,1053.65 C635.95,1056.38 641.8,1061.5 647.21,1067.25 C652.62,1073.01 658.85,1082.02 664.67,1088.18 C670.49,1094.35 677.68,1099.81 682.13,1104.23 C686.58,1108.65 687.92,1112.37 691.37,1114.7 C694.83,1117.02 698.63,1118.18 702.88,1118.18 C707.12,1118.18 710.65,1117.43 716.84,1114.7 C723.04,1111.96 732.32,1106.03 740.05,1101.79 C747.79,1097.54 755.56,1093.82 763.26,1089.23 C770.97,1084.64 778.53,1079.23 786.27,1074.23 C794.01,1069.23 804.41,1062.66 809.68,1059.23 C814.96,1055.8 816.53,1054.58 817.9,1053.65" fill="none" stroke="#A00000" stroke-width="3.4" stroke-dasharray="3 3.3"/>
<path d="M612.5,1158.3h4.0M817.9,1158.3h-4.0" stroke="#1c1c1c" stroke-width="1.6"/>
<path d="M612.5,1123.42h4.0M817.9,1123.42h-4.0" stroke="#1c1c1c" stroke-width="1.6"/>
<path d="M612.5,1088.53h4.0M817.9,1088.53h-4.0" stroke="#1c1c1c" stroke-width="1.6"/>
<path d="M612.5,1053.65h4.0M817.9,1053.65h-4.0" stroke="#1c1c1c" stroke-width="1.6"/>
<path d="M612.5,1018.77h4.0M817.9,1018.77h-4.0" stroke="#1c1c1c" stroke-width="1.6"/>
<path d="M612.5,983.88h4.0M817.9,983.88h-4.0" stroke="#1c1c1c" stroke-width="1.6"/>
<path d="M612.5,949h4.0M817.9,949h-4.0" stroke="#1c1c1c" stroke-width="1.6"/>
<rect x="612.5" y="949" width="205.4" height="209.3" fill="none" stroke="#1c1c1c" stroke-width="2"/>
<text x="691.48" y="1185.8" font-family="'Liberation Sans', Arial, Helvetica, sans-serif" font-size="19.5" font-weight="normal" fill="#1e1e1e" stroke="#1e1e1e" stroke-width="0.25" text-anchor="middle">ES</text>
<text x="817.9" y="1185.8" font-family="'Liberation Sans', Arial, Helvetica, sans-serif" font-size="19.5" font-weight="normal" fill="#1e1e1e" stroke="#1e1e1e" stroke-width="0.25" text-anchor="middle">ED</text>
<text transform="translate(68.9,809.5) rotate(-90)" font-family="'Liberation Sans', Arial, Helvetica, sans-serif" font-size="21.5" fill="#1e1e1e" stroke="#1e1e1e" stroke-width="0.25" text-anchor="middle">Normalized Arteriolar</text>
<text transform="translate(96.1,809.5) rotate(-90)" font-family="'Liberation Sans', Arial, Helvetica, sans-serif" font-size="21.5" fill="#1e1e1e" stroke="#1e1e1e" stroke-width="0.25" text-anchor="middle">Diameter (mm)</text>
<text transform="translate(69,1053.2) rotate(-90)" font-family="'Liberation Sans', Arial, Helvetica, sans-serif" font-size="21.5" fill="#1e1e1e" stroke="#1e1e1e" stroke-width="0.25" text-anchor="middle">Normalized Venular</text>
<text transform="translate(96,1053.2) rotate(-90)" font-family="'Liberation Sans', Arial, Helvetica, sans-serif" font-size="21.5" fill="#1e1e1e" stroke="#1e1e1e" stroke-width="0.25" text-anchor="middle">Diameter (mm)</text>
<line x1="1030" y1="705" x2="1030" y2="914" stroke="#1a1a1a" stroke-width="1.6"/>
<path d="M939.2,809.5 C940.36,809.96 943.27,810.54 946.17,812.29 C949.07,814.03 953.35,817.22 956.62,819.95 C959.9,822.68 962.57,825.64 965.85,828.66 C969.13,831.68 972.85,835.16 976.31,838.06 C979.76,840.97 983.1,843.64 986.56,846.08 C990.01,848.51 994.11,851.53 997.01,852.69 C999.91,853.85 1001.66,853.22 1003.98,853.04 C1006.3,852.87 1008.63,851.82 1010.95,851.65 C1013.27,851.47 1015.8,851.47 1017.92,852 C1020.04,852.52 1021.85,853.68 1023.66,854.78 C1025.47,855.89 1027.04,857.92 1028.79,858.62 C1030.53,859.31 1032.54,859.89 1034.12,858.96 C1035.69,858.03 1036.88,854.9 1038.22,853.04 C1039.55,851.18 1040.3,850.43 1042.11,847.82 C1043.92,845.2 1046.96,839.86 1049.08,837.37 C1051.2,834.87 1051.92,834.58 1054.82,832.84 C1057.72,831.1 1062.64,828.83 1066.51,826.92 C1070.37,825 1074.12,823.09 1077.99,821.34 C1081.85,819.6 1085.81,817.92 1089.67,816.47 C1093.53,815.02 1097.32,813.68 1101.15,812.63 C1104.98,811.59 1108.77,810.84 1112.63,810.2 C1116.49,809.56 1119.05,809.04 1124.32,808.8 C1129.58,808.57 1140.89,808.8 1144.2,808.8" fill="none" stroke="#ED7D31" stroke-width="3.4" stroke-dasharray="3 3.3"/>
<path d="M939.2,914h4.0M1144.2,914h-4.0" stroke="#1c1c1c" stroke-width="1.6"/>
<path d="M939.2,879.17h4.0M1144.2,879.17h-4.0" stroke="#1c1c1c" stroke-width="1.6"/>
<path d="M939.2,844.33h4.0M1144.2,844.33h-4.0" stroke="#1c1c1c" stroke-width="1.6"/>
<path d="M939.2,809.5h4.0M1144.2,809.5h-4.0" stroke="#1c1c1c" stroke-width="1.6"/>
<path d="M939.2,774.67h4.0M1144.2,774.67h-4.0" stroke="#1c1c1c" stroke-width="1.6"/>
<path d="M939.2,739.83h4.0M1144.2,739.83h-4.0" stroke="#1c1c1c" stroke-width="1.6"/>
<path d="M939.2,705h4.0M1144.2,705h-4.0" stroke="#1c1c1c" stroke-width="1.6"/>
<rect x="939.2" y="705" width="205" height="209" fill="none" stroke="#1c1c1c" stroke-width="2"/>
<text x="932.6" y="714.3" font-family="'Liberation Sans', Arial, Helvetica, sans-serif" font-size="19.5" font-weight="normal" fill="#1e1e1e" stroke="#1e1e1e" stroke-width="0.25" text-anchor="end">1.3</text>
<text x="932.6" y="818.8" font-family="'Liberation Sans', Arial, Helvetica, sans-serif" font-size="19.5" font-weight="normal" fill="#1e1e1e" stroke="#1e1e1e" stroke-width="0.25" text-anchor="end">1.0</text>
<text x="932.6" y="923.3" font-family="'Liberation Sans', Arial, Helvetica, sans-serif" font-size="19.5" font-weight="normal" fill="#1e1e1e" stroke="#1e1e1e" stroke-width="0.25" text-anchor="end">0.7</text>
<line x1="1030" y1="949.6" x2="1030" y2="1158.4" stroke="#1a1a1a" stroke-width="1.6"/>
<path d="M939.2,1054 C940.74,1054.12 945.93,1054.12 948.43,1054.7 C950.92,1055.28 951.26,1055.91 954.17,1057.48 C957.07,1059.05 962.57,1061.77 965.85,1064.09 C969.13,1066.41 970.77,1068.44 973.85,1071.4 C976.92,1074.36 980.82,1078.77 984.3,1081.84 C987.79,1084.91 991.85,1088.05 994.76,1089.84 C997.66,1091.64 998.68,1092.16 1001.73,1092.63 C1004.77,1093.09 1008.76,1092.63 1013,1092.63 C1017.24,1092.63 1023.63,1092.74 1027.14,1092.63 C1030.66,1092.51 1031.04,1093.09 1034.12,1091.93 C1037.19,1090.77 1040.98,1088.45 1045.6,1085.67 C1050.21,1082.88 1057.14,1078.19 1061.79,1075.23 C1066.44,1072.27 1069.61,1069.95 1073.48,1067.92 C1077.34,1065.89 1080.34,1064.44 1084.95,1063.05 C1089.57,1061.66 1095.75,1060.44 1101.15,1059.57 C1106.55,1058.7 1111.57,1058.58 1117.35,1057.83 C1123.12,1057.07 1131.32,1055.68 1135.8,1055.04 C1140.27,1054.41 1142.8,1054.17 1144.2,1054" fill="none" stroke="#ED7D31" stroke-width="3.4" stroke-dasharray="3 3.3"/>
<path d="M939.2,1158.4h4.0M1144.2,1158.4h-4.0" stroke="#1c1c1c" stroke-width="1.6"/>
<path d="M939.2,1123.6h4.0M1144.2,1123.6h-4.0" stroke="#1c1c1c" stroke-width="1.6"/>
<path d="M939.2,1088.8h4.0M1144.2,1088.8h-4.0" stroke="#1c1c1c" stroke-width="1.6"/>
<path d="M939.2,1054h4.0M1144.2,1054h-4.0" stroke="#1c1c1c" stroke-width="1.6"/>
<path d="M939.2,1019.2h4.0M1144.2,1019.2h-4.0" stroke="#1c1c1c" stroke-width="1.6"/>
<path d="M939.2,984.4h4.0M1144.2,984.4h-4.0" stroke="#1c1c1c" stroke-width="1.6"/>
<path d="M939.2,949.6h4.0M1144.2,949.6h-4.0" stroke="#1c1c1c" stroke-width="1.6"/>
<rect x="939.2" y="949.6" width="205" height="208.8" fill="none" stroke="#1c1c1c" stroke-width="2"/>
<text x="932.6" y="958.9" font-family="'Liberation Sans', Arial, Helvetica, sans-serif" font-size="19.5" font-weight="normal" fill="#1e1e1e" stroke="#1e1e1e" stroke-width="0.25" text-anchor="end">1.3</text>
<text x="932.6" y="1063.3" font-family="'Liberation Sans', Arial, Helvetica, sans-serif" font-size="19.5" font-weight="normal" fill="#1e1e1e" stroke="#1e1e1e" stroke-width="0.25" text-anchor="end">1.0</text>
<text x="932.6" y="1167.7" font-family="'Liberation Sans', Arial, Helvetica, sans-serif" font-size="19.5" font-weight="normal" fill="#1e1e1e" stroke="#1e1e1e" stroke-width="0.25" text-anchor="end">0.7</text>
<text x="1030" y="1185.9" font-family="'Liberation Sans', Arial, Helvetica, sans-serif" font-size="19.5" font-weight="normal" fill="#1e1e1e" stroke="#1e1e1e" stroke-width="0.25" text-anchor="middle">ES</text>
<text x="1144.2" y="1185.9" font-family="'Liberation Sans', Arial, Helvetica, sans-serif" font-size="19.5" font-weight="normal" fill="#1e1e1e" stroke="#1e1e1e" stroke-width="0.25" text-anchor="middle">ED</text>
<text x="978.72" y="693.4" font-family="'Liberation Sans', Arial, Helvetica, sans-serif" font-size="24" font-weight="bold" fill="#000" stroke="#000" stroke-width="0.5" textLength="130.66" lengthAdjust="spacingAndGlyphs">MEASURED</text>
<text x="1045.3" y="1222.5" font-family="'Liberation Sans', Arial, Helvetica, sans-serif" font-size="22" fill="#8a8a8a" text-anchor="middle" textLength="167.7" lengthAdjust="spacingAndGlyphs">Hiramatsu, 1998</text>
<text x="1358.9" y="691.7" font-family="'Liberation Sans', Arial, Helvetica, sans-serif" font-size="24.5" font-weight="bold" fill="#000" stroke="#000" stroke-width="0.5" textLength="133.72" lengthAdjust="spacingAndGlyphs">SIMULATED</text>
<text x="1579.92" y="691.7" font-family="'Liberation Sans', Arial, Helvetica, sans-serif" font-size="24.5" font-weight="bold" fill="#000" stroke="#000" stroke-width="0.5" textLength="130.56" lengthAdjust="spacingAndGlyphs">MEASURED</text>
<circle cx="1347.99" cy="795.48" r="4.9" fill="#A00000"/>
<circle cx="1347.99" cy="796.18" r="4.9" fill="#0072BD"/>
<circle cx="1347.99" cy="794.3" r="4.9" fill="#ED7D31"/>
<circle cx="1399.96" cy="809.4" r="4.9" fill="#0072BD"/>
<circle cx="1399.96" cy="808.36" r="4.9" fill="#A00000"/>
<circle cx="1399.96" cy="809.5" r="4.9" fill="#ED7D31"/>
<circle cx="1451.94" cy="815.11" r="4.9" fill="#0072BD"/>
<circle cx="1451.94" cy="822.62" r="4.9" fill="#A00000"/>
<circle cx="1451.94" cy="821.93" r="4.9" fill="#ED7D31"/>
<circle cx="1503.91" cy="825.3" r="4.9" fill="#0072BD"/>
<circle cx="1503.91" cy="852.2" r="4.9" fill="#A00000"/>
<circle cx="1503.91" cy="850.71" r="4.9" fill="#ED7D31"/>
<path d="M1567.4,820.2L1574.05,809.2L1560.75,809.2Z" fill="#ED7D31"/>
<rect x="1568.8" y="811.4" width="8.4" height="8.4" fill="#ED7D31"/>
<path d="M1579.3,802.5L1584.55,809.4L1579.3,816.3L1574.05,809.4Z" fill="#ED7D31"/>
<path d="M1584.6,812.8L1591.25,823.8L1577.95,823.8Z" fill="#ED7D31"/>
<path d="M1645.5,838.2L1652.15,849.2L1638.85,849.2Z" fill="#ED7D31"/>
<path d="M1714.9,838.2L1721.55,849.2L1708.25,849.2Z" fill="#ED7D31"/>
<path d="M1714.9,848.1L1720.15,855L1714.9,861.9L1709.65,855Z" fill="#ED7D31"/>
<rect x="1710.7" y="888.8" width="8.4" height="8.4" fill="#ED7D31"/>
<line x1="1322" y1="809.4" x2="1529.9" y2="809.4" stroke="#3a3a3a" stroke-width="1.1" stroke-dasharray="1.1 2.1"/>
<line x1="1541.2" y1="809.4" x2="1749.4" y2="809.4" stroke="#3a3a3a" stroke-width="1.1" stroke-dasharray="1.1 2.1"/>
<path d="M1322,913.8h4.0M1529.9,913.8h-4.0" stroke="#1c1c1c" stroke-width="1.6"/>
<path d="M1322,879h4.0M1529.9,879h-4.0" stroke="#1c1c1c" stroke-width="1.6"/>
<path d="M1322,844.2h4.0M1529.9,844.2h-4.0" stroke="#1c1c1c" stroke-width="1.6"/>
<path d="M1322,809.4h4.0M1529.9,809.4h-4.0" stroke="#1c1c1c" stroke-width="1.6"/>
<path d="M1322,774.6h4.0M1529.9,774.6h-4.0" stroke="#1c1c1c" stroke-width="1.6"/>
<path d="M1322,739.8h4.0M1529.9,739.8h-4.0" stroke="#1c1c1c" stroke-width="1.6"/>
<path d="M1322,705h4.0M1529.9,705h-4.0" stroke="#1c1c1c" stroke-width="1.6"/>
<path d="M1347.99,913.8v-4.0M1347.99,705v4.0" stroke="#1c1c1c" stroke-width="1.6"/>
<path d="M1399.96,913.8v-4.0M1399.96,705v4.0" stroke="#1c1c1c" stroke-width="1.6"/>
<path d="M1451.94,913.8v-4.0M1451.94,705v4.0" stroke="#1c1c1c" stroke-width="1.6"/>
<path d="M1503.91,913.8v-4.0M1503.91,705v4.0" stroke="#1c1c1c" stroke-width="1.6"/>
<rect x="1322" y="705" width="207.9" height="208.8" fill="none" stroke="#1c1c1c" stroke-width="2"/>
<path d="M1541.2,913.8h4.0M1749.4,913.8h-4.0" stroke="#1c1c1c" stroke-width="1.6"/>
<path d="M1541.2,879h4.0M1749.4,879h-4.0" stroke="#1c1c1c" stroke-width="1.6"/>
<path d="M1541.2,844.2h4.0M1749.4,844.2h-4.0" stroke="#1c1c1c" stroke-width="1.6"/>
<path d="M1541.2,809.4h4.0M1749.4,809.4h-4.0" stroke="#1c1c1c" stroke-width="1.6"/>
<path d="M1541.2,774.6h4.0M1749.4,774.6h-4.0" stroke="#1c1c1c" stroke-width="1.6"/>
<path d="M1541.2,739.8h4.0M1749.4,739.8h-4.0" stroke="#1c1c1c" stroke-width="1.6"/>
<path d="M1541.2,705h4.0M1749.4,705h-4.0" stroke="#1c1c1c" stroke-width="1.6"/>
<path d="M1575.9,913.8v-4.0M1575.9,705v4.0" stroke="#1c1c1c" stroke-width="1.6"/>
<path d="M1645.3,913.8v-4.0M1645.3,705v4.0" stroke="#1c1c1c" stroke-width="1.6"/>
<path d="M1714.7,913.8v-4.0M1714.7,705v4.0" stroke="#1c1c1c" stroke-width="1.6"/>
<rect x="1541.2" y="705" width="208.2" height="208.8" fill="none" stroke="#1c1c1c" stroke-width="2"/>
<text x="1315.4" y="714.3" font-family="'Liberation Sans', Arial, Helvetica, sans-serif" font-size="19.5" font-weight="normal" fill="#1e1e1e" stroke="#1e1e1e" stroke-width="0.25" text-anchor="end">1.3</text>
<text x="1315.4" y="818.7" font-family="'Liberation Sans', Arial, Helvetica, sans-serif" font-size="19.5" font-weight="normal" fill="#1e1e1e" stroke="#1e1e1e" stroke-width="0.25" text-anchor="end">1.0</text>
<text x="1315.4" y="923.1" font-family="'Liberation Sans', Arial, Helvetica, sans-serif" font-size="19.5" font-weight="normal" fill="#1e1e1e" stroke="#1e1e1e" stroke-width="0.25" text-anchor="end">0.7</text>
<circle cx="1347.99" cy="1026.77" r="4.9" fill="#0072BD"/>
<circle cx="1347.99" cy="1025.72" r="4.9" fill="#A00000"/>
<circle cx="1347.99" cy="1027.12" r="4.9" fill="#ED7D31"/>
<circle cx="1399.96" cy="1068.24" r="4.9" fill="#0072BD"/>
<circle cx="1399.96" cy="1072.07" r="4.9" fill="#A00000"/>
<circle cx="1399.96" cy="1075.1" r="4.9" fill="#ED7D31"/>
<circle cx="1451.94" cy="1079.6" r="4.9" fill="#0072BD"/>
<circle cx="1451.94" cy="1092.49" r="4.9" fill="#A00000"/>
<circle cx="1451.94" cy="1090.3" r="4.9" fill="#ED7D31"/>
<circle cx="1503.91" cy="1089.18" r="4.9" fill="#0072BD"/>
<circle cx="1503.91" cy="1115.7" r="4.9" fill="#A00000"/>
<circle cx="1503.91" cy="1109.5" r="4.9" fill="#ED7D31"/>
<rect x="1566.4" y="983.3" width="8.4" height="8.4" fill="#ED7D31"/>
<path d="M1574.9,984.2L1585.5,977.4L1585.5,991Z" fill="#ED7D31"/>
<path d="M1576,1015.9L1582.65,1026.9L1569.35,1026.9Z" fill="#ED7D31"/>
<path d="M1645.5,1057.5L1652.15,1068.5L1638.85,1068.5Z" fill="#ED7D31"/>
<path d="M1714.7,1098.8L1704.1,1092L1704.1,1105.6Z" fill="#ED7D31"/>
<path d="M1720.3,1089.1L1726.95,1100.1L1713.65,1100.1Z" fill="#ED7D31"/>
<rect x="1710.7" y="1116.2" width="8.4" height="8.4" fill="#ED7D31"/>
<line x1="1322" y1="1053.95" x2="1529.9" y2="1053.95" stroke="#3a3a3a" stroke-width="1.1" stroke-dasharray="1.1 2.1"/>
<line x1="1541.2" y1="1053.95" x2="1749.4" y2="1053.95" stroke="#3a3a3a" stroke-width="1.1" stroke-dasharray="1.1 2.1"/>
<path d="M1322,1158.5h4.0M1529.9,1158.5h-4.0" stroke="#1c1c1c" stroke-width="1.6"/>
<path d="M1322,1123.65h4.0M1529.9,1123.65h-4.0" stroke="#1c1c1c" stroke-width="1.6"/>
<path d="M1322,1088.8h4.0M1529.9,1088.8h-4.0" stroke="#1c1c1c" stroke-width="1.6"/>
<path d="M1322,1053.95h4.0M1529.9,1053.95h-4.0" stroke="#1c1c1c" stroke-width="1.6"/>
<path d="M1322,1019.1h4.0M1529.9,1019.1h-4.0" stroke="#1c1c1c" stroke-width="1.6"/>
<path d="M1322,984.25h4.0M1529.9,984.25h-4.0" stroke="#1c1c1c" stroke-width="1.6"/>
<path d="M1322,949.4h4.0M1529.9,949.4h-4.0" stroke="#1c1c1c" stroke-width="1.6"/>
<path d="M1347.99,1158.5v-4.0M1347.99,949.4v4.0" stroke="#1c1c1c" stroke-width="1.6"/>
<path d="M1399.96,1158.5v-4.0M1399.96,949.4v4.0" stroke="#1c1c1c" stroke-width="1.6"/>
<path d="M1451.94,1158.5v-4.0M1451.94,949.4v4.0" stroke="#1c1c1c" stroke-width="1.6"/>
<path d="M1503.91,1158.5v-4.0M1503.91,949.4v4.0" stroke="#1c1c1c" stroke-width="1.6"/>
<rect x="1322" y="949.4" width="207.9" height="209.1" fill="none" stroke="#1c1c1c" stroke-width="2"/>
<path d="M1541.2,1158.5h4.0M1749.4,1158.5h-4.0" stroke="#1c1c1c" stroke-width="1.6"/>
<path d="M1541.2,1123.65h4.0M1749.4,1123.65h-4.0" stroke="#1c1c1c" stroke-width="1.6"/>
<path d="M1541.2,1088.8h4.0M1749.4,1088.8h-4.0" stroke="#1c1c1c" stroke-width="1.6"/>
<path d="M1541.2,1053.95h4.0M1749.4,1053.95h-4.0" stroke="#1c1c1c" stroke-width="1.6"/>
<path d="M1541.2,1019.1h4.0M1749.4,1019.1h-4.0" stroke="#1c1c1c" stroke-width="1.6"/>
<path d="M1541.2,984.25h4.0M1749.4,984.25h-4.0" stroke="#1c1c1c" stroke-width="1.6"/>
<path d="M1541.2,949.4h4.0M1749.4,949.4h-4.0" stroke="#1c1c1c" stroke-width="1.6"/>
<path d="M1575.9,1158.5v-4.0M1575.9,949.4v4.0" stroke="#1c1c1c" stroke-width="1.6"/>
<path d="M1645.3,1158.5v-4.0M1645.3,949.4v4.0" stroke="#1c1c1c" stroke-width="1.6"/>
<path d="M1714.7,1158.5v-4.0M1714.7,949.4v4.0" stroke="#1c1c1c" stroke-width="1.6"/>
<rect x="1541.2" y="949.4" width="208.2" height="209.1" fill="none" stroke="#1c1c1c" stroke-width="2"/>
<text x="1315.4" y="958.7" font-family="'Liberation Sans', Arial, Helvetica, sans-serif" font-size="19.5" font-weight="normal" fill="#1e1e1e" stroke="#1e1e1e" stroke-width="0.25" text-anchor="end">1.3</text>
<text x="1315.4" y="1063.25" font-family="'Liberation Sans', Arial, Helvetica, sans-serif" font-size="19.5" font-weight="normal" fill="#1e1e1e" stroke="#1e1e1e" stroke-width="0.25" text-anchor="end">1.0</text>
<text x="1315.4" y="1167.8" font-family="'Liberation Sans', Arial, Helvetica, sans-serif" font-size="19.5" font-weight="normal" fill="#1e1e1e" stroke="#1e1e1e" stroke-width="0.25" text-anchor="end">0.7</text>
<text transform="translate(1253.7,808.9) rotate(-90)" font-family="'Liberation Sans', Arial, Helvetica, sans-serif" font-size="21.5" fill="#1e1e1e" stroke="#1e1e1e" stroke-width="0.25" text-anchor="middle">Arterial Diameter</text>
<text transform="translate(1280.9,808.9) rotate(-90)" font-family="'Liberation Sans', Arial, Helvetica, sans-serif" font-size="21.5" fill="#1e1e1e" stroke="#1e1e1e" stroke-width="0.25" text-anchor="middle">ED-ES Change (-)</text>
<text transform="translate(1253.7,1053.2) rotate(-90)" font-family="'Liberation Sans', Arial, Helvetica, sans-serif" font-size="21.5" fill="#1e1e1e" stroke="#1e1e1e" stroke-width="0.25" text-anchor="middle">Venular Diameter</text>
<text transform="translate(1280.9,1053.2) rotate(-90)" font-family="'Liberation Sans', Arial, Helvetica, sans-serif" font-size="21.5" fill="#1e1e1e" stroke="#1e1e1e" stroke-width="0.25" text-anchor="middle">ED-ES Change (-)</text>
<text transform="translate(1362.99,1181) rotate(-45)" font-family="'Liberation Sans', Arial, Helvetica, sans-serif" font-size="19.5" fill="#1e1e1e" stroke="#1e1e1e" stroke-width="0.25" text-anchor="end">Epi</text>
<text transform="translate(1414.96,1181) rotate(-45)" font-family="'Liberation Sans', Arial, Helvetica, sans-serif" font-size="19.5" fill="#1e1e1e" stroke="#1e1e1e" stroke-width="0.25" text-anchor="end">Subepi</text>
<text transform="translate(1466.94,1181) rotate(-45)" font-family="'Liberation Sans', Arial, Helvetica, sans-serif" font-size="19.5" fill="#1e1e1e" stroke="#1e1e1e" stroke-width="0.25" text-anchor="end">Mid</text>
<text transform="translate(1518.91,1181) rotate(-45)" font-family="'Liberation Sans', Arial, Helvetica, sans-serif" font-size="19.5" fill="#1e1e1e" stroke="#1e1e1e" stroke-width="0.25" text-anchor="end">Subendo</text>
<text transform="translate(1589.5,1181) rotate(-45)" font-family="'Liberation Sans', Arial, Helvetica, sans-serif" font-size="19.5" fill="#1e1e1e" stroke="#1e1e1e" stroke-width="0.25" text-anchor="end">Epi</text>
<text transform="translate(1658.9,1181) rotate(-45)" font-family="'Liberation Sans', Arial, Helvetica, sans-serif" font-size="19.5" fill="#1e1e1e" stroke="#1e1e1e" stroke-width="0.25" text-anchor="end">Mid</text>
<text transform="translate(1728.3,1181) rotate(-45)" font-family="'Liberation Sans', Arial, Helvetica, sans-serif" font-size="19.5" fill="#1e1e1e" stroke="#1e1e1e" stroke-width="0.25" text-anchor="end">Endo</text>
<text x="1293.87" y="135.9" font-family="'Liberation Sans', Arial, Helvetica, sans-serif" font-size="23" font-weight="bold" fill="#000" stroke="#000" stroke-width="0.5" textLength="84.75" lengthAdjust="spacingAndGlyphs">MODEL</text>
<text x="1532.93" y="136.5" font-family="'Liberation Sans', Arial, Helvetica, sans-serif" font-size="23" font-weight="bold" fill="#000" stroke="#000" stroke-width="0.5" textLength="130.27" lengthAdjust="spacingAndGlyphs">REFERENCE</text>
<rect x="1226.4" y="158.5" width="220.4" height="337.9" rx="5" ry="5" fill="none" stroke="#111" stroke-width="1.8"/>
<rect x="1458.1" y="157.6" width="275.9" height="338.4" rx="5" ry="5" fill="none" stroke="#111" stroke-width="1.8"/>
<line x1="1238.7" y1="188.1" x2="1325.1" y2="188.1" stroke="#0072BD" stroke-width="8.2"/>
<text x="1345.5" y="195.7" font-family="'Liberation Sans', Arial, Helvetica, sans-serif" font-size="23" font-weight="normal" fill="#1e1e1e" stroke="#1e1e1e" stroke-width="0.25" text-anchor="start">RCA</text>
<line x1="1238.7" y1="230.1" x2="1325.1" y2="230.1" stroke="#ED7D31" stroke-width="8.2"/>
<text x="1345.5" y="237.7" font-family="'Liberation Sans', Arial, Helvetica, sans-serif" font-size="23" font-weight="normal" fill="#1e1e1e" stroke="#1e1e1e" stroke-width="0.25" text-anchor="start">LAD</text>
<line x1="1238.7" y1="272.4" x2="1325.1" y2="272.4" stroke="#A00000" stroke-width="8.2"/>
<text x="1345.5" y="280" font-family="'Liberation Sans', Arial, Helvetica, sans-serif" font-size="23" font-weight="normal" fill="#1e1e1e" stroke="#1e1e1e" stroke-width="0.25" text-anchor="start">LCx</text>
<line x1="1238.7" y1="341.6" x2="1325.1" y2="341.6" stroke="#000" stroke-width="8.2"/>
<text x="1345.5" y="349.2" font-family="'Liberation Sans', Arial, Helvetica, sans-serif" font-size="23" font-weight="normal" fill="#1e1e1e" stroke="#1e1e1e" stroke-width="0.25" text-anchor="start">Epi</text>
<line x1="1238.7" y1="384.1" x2="1325.1" y2="384.1" stroke="#000" stroke-width="8.2" stroke-dasharray="34 25.6 8.6 100"/>
<text x="1345.5" y="391.7" font-family="'Liberation Sans', Arial, Helvetica, sans-serif" font-size="23" font-weight="normal" fill="#1e1e1e" stroke="#1e1e1e" stroke-width="0.25" text-anchor="start">Subepi</text>
<line x1="1238.7" y1="427.1" x2="1325.1" y2="427.1" stroke="#000" stroke-width="8.2" stroke-dasharray="34 25.6"/>
<text x="1345.5" y="434.7" font-family="'Liberation Sans', Arial, Helvetica, sans-serif" font-size="23" font-weight="normal" fill="#1e1e1e" stroke="#1e1e1e" stroke-width="0.25" text-anchor="start">Mid</text>
<line x1="1238.7" y1="469.9" x2="1325.1" y2="469.9" stroke="#000" stroke-width="8.2" stroke-dasharray="8.5 8.3"/>
<text x="1345.5" y="477.5" font-family="'Liberation Sans', Arial, Helvetica, sans-serif" font-size="23" font-weight="normal" fill="#1e1e1e" stroke="#1e1e1e" stroke-width="0.25" text-anchor="start">Subendo</text>
<path d="M1492.7,217L1505.2,196L1480.2,196Z" fill="#ED7D31"/>
<text x="1533" y="208.6" font-family="'Liberation Sans', Arial, Helvetica, sans-serif" font-size="23" font-weight="normal" fill="#1e1e1e" stroke="#1e1e1e" stroke-width="0.25" text-anchor="start">Kanatsuka, 1989</text>
<path d="M1478.75,257.5L1502.45,244.85L1502.45,270.15Z" fill="#ED7D31"/>
<text x="1533" y="260.3" font-family="'Liberation Sans', Arial, Helvetica, sans-serif" font-size="23" font-weight="normal" fill="#1e1e1e" stroke="#1e1e1e" stroke-width="0.25" text-anchor="start">Nellis, 1989</text>
<rect x="1486" y="300.1" width="17.2" height="17.2" fill="#ED7D31"/>
<text x="1533" y="310.7" font-family="'Liberation Sans', Arial, Helvetica, sans-serif" font-size="23" font-weight="normal" fill="#1e1e1e" stroke="#1e1e1e" stroke-width="0.25" text-anchor="start">Yada, 1993</text>
<path d="M1509.8,360.1L1486,346.9L1486,373.3Z" fill="#ED7D31"/>
<text x="1533" y="362.4" font-family="'Liberation Sans', Arial, Helvetica, sans-serif" font-size="23" font-weight="normal" fill="#1e1e1e" stroke="#1e1e1e" stroke-width="0.25" text-anchor="start">Hiramatsu, 1994</text>
<path d="M1493.9,394.6L1505.8,410.3L1493.9,426L1482,410.3Z" fill="#ED7D31"/>
<text x="1533" y="413.4" font-family="'Liberation Sans', Arial, Helvetica, sans-serif" font-size="23" font-weight="normal" fill="#1e1e1e" stroke="#1e1e1e" stroke-width="0.25" text-anchor="start">Yada, 1995</text>
<path d="M1493.9,447.35L1507.8,470.45L1480,470.45Z" fill="#ED7D31"/>
<text x="1533" y="465.4" font-family="'Liberation Sans', Arial, Helvetica, sans-serif" font-size="23" font-weight="normal" fill="#1e1e1e" stroke="#1e1e1e" stroke-width="0.25" text-anchor="start">Hiramatsu, 1998</text>
</svg>
</body></html>
